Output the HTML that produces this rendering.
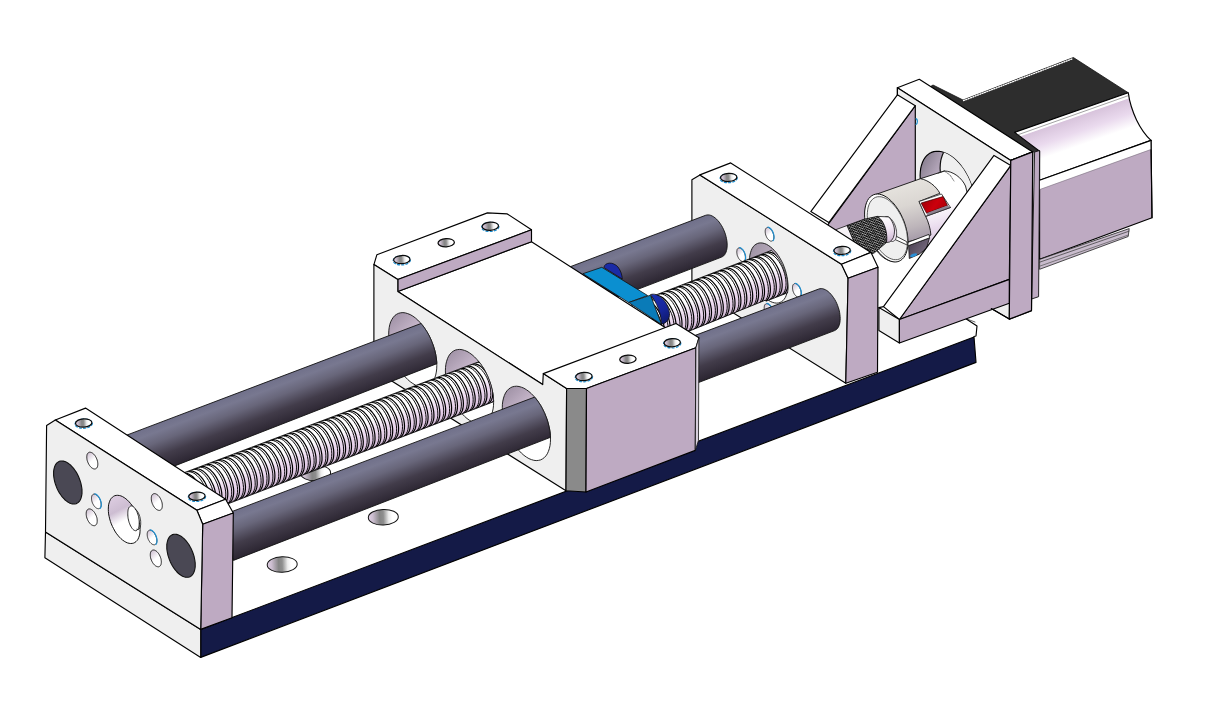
<!DOCTYPE html>
<html><head><meta charset="utf-8"><title>Linear stage</title>
<style>html,body{margin:0;padding:0;background:#fff;font-family:"Liberation Sans",sans-serif;}svg{display:block}</style>
</head><body>
<svg width="1206" height="705" viewBox="0 0 1206 705">
<defs>
<linearGradient id="hole" x1="0" y1="0" x2="1" y2="0"><stop offset="0" stop-color="#e0d0e4"/><stop offset="0.15" stop-color="#cbbdcf"/><stop offset="0.38" stop-color="#858585"/><stop offset="0.5" stop-color="#8e8e8e"/><stop offset="0.68" stop-color="#ececec"/><stop offset="0.8" stop-color="#ffffff"/><stop offset="1" stop-color="#ffffff"/></linearGradient>
<linearGradient id="holeV" x1="0" y1="0" x2="0.6" y2="1"><stop offset="0" stop-color="#c8b8cc"/><stop offset="0.6" stop-color="#ffffff"/><stop offset="1" stop-color="#ffffff"/></linearGradient>
<linearGradient id="mch" gradientUnits="userSpaceOnUse" x1="1080" y1="109.5" x2="1094.9" y2="152.1"><stop offset="0" stop-color="#ffffff"/><stop offset="0.115" stop-color="#ffffff"/><stop offset="0.135" stop-color="#d8c4dc"/><stop offset="0.45" stop-color="#eadaee"/><stop offset="0.75" stop-color="#ffffff"/><stop offset="1" stop-color="#ffffff"/></linearGradient>
<linearGradient id="bh" x1="0" y1="0.3" x2="1" y2="0.5"><stop offset="0" stop-color="#8e8494"/><stop offset="0.25" stop-color="#b9a9be"/><stop offset="0.4" stop-color="#e8e0ea"/><stop offset="0.42" stop-color="#ffffff"/><stop offset="1" stop-color="#f4f4f4"/></linearGradient>
<clipPath id="clipbh"><polygon points="974.9,204.4 974.7,208.1 974.3,211.6 973.5,214.8 972.5,217.8 971.2,220.5 969.6,222.8 967.8,224.8 965.8,226.4 963.6,227.6 961.2,228.4 958.6,228.7 956.0,228.7 953.2,228.2 950.4,227.3 947.5,226.0 944.6,224.3 941.8,222.2 939.0,219.8 936.4,217.0 933.8,214.0 931.4,210.7 929.2,207.1 927.2,203.4 925.4,199.5 923.8,195.5 922.5,191.5 921.5,187.4 920.7,183.4 920.3,179.4 920.1,175.6 920.3,171.9 920.7,168.4 921.5,165.2 922.5,162.2 923.8,159.5 925.4,157.2 927.2,155.2 929.2,153.6 931.4,152.4 933.8,151.6 936.4,151.3 939.0,151.3 941.8,151.8 944.6,152.7 947.5,154.0 950.4,155.7 953.2,157.8 956.0,160.2 958.6,163.0 961.2,166.0 963.6,169.3 965.8,172.9 967.8,176.6 969.6,180.5 971.2,184.5 972.5,188.5 973.5,192.6 974.3,196.6 974.7,200.6 974.9,204.4"/></clipPath>
<linearGradient id="bh2" gradientUnits="userSpaceOnUse" x1="920" y1="170" x2="975" y2="200"><stop offset="0" stop-color="#8f8596"/><stop offset="0.25" stop-color="#b4a6ba"/><stop offset="0.5" stop-color="#cdbfd2"/><stop offset="1" stop-color="#d8ccdc"/></linearGradient>
<linearGradient id="cpw" gradientUnits="userSpaceOnUse" x1="935" y1="172" x2="952" y2="236"><stop offset="0" stop-color="#ffffff"/><stop offset="0.5" stop-color="#ffffff"/><stop offset="0.8" stop-color="#eadcee"/><stop offset="1" stop-color="#dccce0"/></linearGradient>
<linearGradient id="cpb" gradientUnits="userSpaceOnUse" x1="893" y1="186" x2="912" y2="258"><stop offset="0" stop-color="#e6e3de"/><stop offset="0.3" stop-color="#dad6d2"/><stop offset="0.6" stop-color="#bdb5ba"/><stop offset="0.85" stop-color="#9c90a2"/><stop offset="1" stop-color="#8a7e90"/></linearGradient>
<linearGradient id="cpd" gradientUnits="userSpaceOnUse" x1="910" y1="244" x2="926" y2="256"><stop offset="0" stop-color="#4e4456"/><stop offset="1" stop-color="#7c7084"/></linearGradient>
<linearGradient id="red" gradientUnits="userSpaceOnUse" x1="925" y1="198" x2="945" y2="212"><stop offset="0" stop-color="#a40008"/><stop offset="0.5" stop-color="#cc000c"/><stop offset="1" stop-color="#aa0008"/></linearGradient>
<linearGradient id="cpf" gradientUnits="userSpaceOnUse" x1="866" y1="200" x2="905" y2="255"><stop offset="0" stop-color="#ffffff"/><stop offset="0.55" stop-color="#ffffff"/><stop offset="1" stop-color="#e6deea"/></linearGradient>
<linearGradient id="ssh" gradientUnits="userSpaceOnUse" x1="884" y1="216" x2="890" y2="244"><stop offset="0" stop-color="#ffffff"/><stop offset="0.45" stop-color="#f3e8f5"/><stop offset="0.8" stop-color="#d8c4dc"/><stop offset="1" stop-color="#b8a4bc"/></linearGradient>
<pattern id="knurl" width="2.4" height="2.4" patternUnits="userSpaceOnUse" patternTransform="rotate(18)"><rect width="2.4" height="2.4" fill="#ffffff"/><path d="M0,0 L2.4,2.4 M2.4,0 L0,2.4" stroke="#000" stroke-width="0.9"/></pattern>
<linearGradient id="rph" x1="0" y1="0" x2="1" y2="1"><stop offset="0" stop-color="#9a90a0"/><stop offset="0.4" stop-color="#b8aabc"/><stop offset="0.75" stop-color="#ffffff"/><stop offset="1" stop-color="#ffffff"/></linearGradient>
<linearGradient id="r2b" gradientUnits="userSpaceOnUse" x1="628.8" y1="244.5" x2="644.9" y2="286.9"><stop offset="0" stop-color="#70708a"/><stop offset="0.17" stop-color="#787890"/><stop offset="0.38" stop-color="#68667a"/><stop offset="0.68" stop-color="#423c4a"/><stop offset="1" stop-color="#2b2531"/></linearGradient>
<linearGradient id="s2" gradientUnits="userSpaceOnUse" x1="696.1" y1="279.4" x2="712.9" y2="322.8"><stop offset="0" stop-color="#ffffff"/><stop offset="0.38" stop-color="#ffffff"/><stop offset="0.6" stop-color="#eddbf0"/><stop offset="0.85" stop-color="#dfc7e3"/><stop offset="1" stop-color="#c4aec8"/></linearGradient>
<clipPath id="clip_s2"><polygon points="631.7,304.3 771.4,250.4 771.7,250.7 772.0,251.0 772.4,251.3 772.7,251.6 773.0,251.9 773.3,252.2 773.7,252.6 774.0,252.9 774.3,253.2 774.6,253.6 774.9,254.0 775.3,254.3 775.6,254.7 775.9,255.1 776.2,255.4 776.5,255.8 776.8,256.2 777.1,256.6 777.4,257.0 777.7,257.5 778.0,257.9 778.3,258.3 778.6,258.7 778.9,259.2 779.1,259.6 779.4,260.1 779.7,260.5 780.0,261.0 780.2,261.4 780.5,261.9 780.8,262.4 781.0,262.8 781.3,263.3 781.5,263.8 781.8,264.3 782.0,264.8 782.3,265.2 782.5,265.7 782.7,266.2 783.0,266.7 783.2,267.2 783.4,267.7 783.6,268.2 783.8,268.8 784.0,269.3 784.2,269.8 784.4,270.3 784.6,270.8 784.8,271.3 785.0,271.9 785.1,272.4 785.3,272.9 785.5,273.4 785.6,273.9 785.8,274.5 785.9,275.0 786.1,275.5 786.2,276.0 786.4,276.6 786.5,277.1 786.6,277.6 786.7,278.1 786.8,278.7 786.9,279.2 787.0,279.7 787.1,280.2 787.2,280.8 787.3,281.3 787.4,281.8 787.5,282.3 787.5,282.8 787.6,283.3 787.6,283.8 787.7,284.3 787.7,284.8 787.8,285.3 787.8,285.8 787.8,286.3 787.9,286.8 787.9,287.3 787.9,287.8 787.9,288.3 787.9,288.7 787.9,289.2 787.9,289.7 787.8,290.1 787.8,290.6 787.8,291.1 787.7,291.5 787.7,292.0 787.6,292.4 787.6,292.8 766.0,301.2 765.7,300.9 765.4,300.6 765.0,300.3 648.3,347.7"/></clipPath>
<linearGradient id="r2f" gradientUnits="userSpaceOnUse" x1="745.4" y1="316.5" x2="761.3" y2="359.1"><stop offset="0" stop-color="#70708a"/><stop offset="0.17" stop-color="#787890"/><stop offset="0.38" stop-color="#68667a"/><stop offset="0.68" stop-color="#423c4a"/><stop offset="1" stop-color="#2b2531"/></linearGradient>
<linearGradient id="nutd" gradientUnits="userSpaceOnUse" x1="652" y1="296" x2="668" y2="320"><stop offset="0" stop-color="#1a2fb0"/><stop offset="0.6" stop-color="#16259a"/><stop offset="1" stop-color="#101a70"/></linearGradient>
<linearGradient id="chh" x1="0.2" y1="0" x2="0.8" y2="1"><stop offset="0" stop-color="#a294a8"/><stop offset="0.3" stop-color="#c6b6ca"/><stop offset="0.55" stop-color="#ffffff"/><stop offset="1" stop-color="#ffffff"/></linearGradient>
<linearGradient id="r1b" gradientUnits="userSpaceOnUse" x1="258.1" y1="385.0" x2="274.5" y2="428.2"><stop offset="0" stop-color="#70708a"/><stop offset="0.17" stop-color="#787890"/><stop offset="0.38" stop-color="#68667a"/><stop offset="0.68" stop-color="#423c4a"/><stop offset="1" stop-color="#2b2531"/></linearGradient>
<clipPath id="clip_r1b"><polygon points="111.5,440.9 421.0,323.5 421.4,324.0 421.8,324.4 422.2,324.9 422.6,325.4 422.9,325.9 423.3,326.4 423.7,326.9 424.1,327.4 424.4,327.9 424.8,328.5 425.2,329.0 425.5,329.5 425.9,330.1 426.2,330.6 426.6,331.2 426.9,331.7 427.3,332.3 427.6,332.9 427.9,333.5 428.2,334.1 428.6,334.6 428.9,335.2 429.2,335.8 429.5,336.4 429.8,337.1 430.1,337.7 430.4,338.3 430.7,338.9 430.9,339.5 431.2,340.1 431.5,340.8 431.7,341.4 432.0,342.0 432.2,342.7 432.5,343.3 432.7,343.9 433.0,344.6 433.2,345.2 433.4,345.9 433.6,346.5 433.8,347.2 434.0,347.8 434.2,348.5 434.4,349.1 434.6,349.8 434.8,350.4 434.9,351.1 435.1,351.7 435.2,352.4 435.4,353.0 435.5,353.6 435.7,354.3 435.8,354.9 435.9,355.6 436.0,356.2 436.1,356.9 436.2,357.5 436.3,358.1 436.4,358.8 436.5,359.4 436.5,360.0 436.6,360.6 436.7,361.2 436.7,361.9 436.8,362.5 436.8,363.1 436.8,363.7 128.5,483.9"/></clipPath>
<linearGradient id="s1" gradientUnits="userSpaceOnUse" x1="316.7" y1="422.6" x2="332.5" y2="464.5"><stop offset="0" stop-color="#ffffff"/><stop offset="0.38" stop-color="#ffffff"/><stop offset="0.6" stop-color="#eddbf0"/><stop offset="0.85" stop-color="#dfc7e3"/><stop offset="1" stop-color="#c4aec8"/></linearGradient>
<clipPath id="clip_s1"><polygon points="171.8,477.3 478.9,361.7 479.3,362.2 479.7,362.7 480.1,363.2 480.4,363.7 480.8,364.2 481.2,364.7 481.5,365.3 481.9,365.8 482.3,366.3 482.6,366.9 483.0,367.4 483.3,368.0 483.7,368.5 484.0,369.1 484.3,369.7 484.7,370.3 485.0,370.9 485.3,371.4 485.6,372.0 485.9,372.6 486.2,373.2 486.5,373.9 486.8,374.5 487.1,375.1 487.4,375.7 487.7,376.3 488.0,376.9 488.2,377.6 488.5,378.2 488.7,378.8 489.0,379.5 489.2,380.1 489.5,380.7 489.7,381.4 489.9,382.0 490.2,382.7 490.4,383.3 490.6,384.0 490.8,384.6 491.0,385.3 491.2,385.9 491.3,386.6 491.5,387.2 491.7,387.9 491.8,388.5 492.0,389.2 492.1,389.8 492.3,390.4 492.4,391.1 492.5,391.7 492.7,392.4 492.8,393.0 492.9,393.7 493.0,394.3 493.1,394.9 493.2,395.6 493.2,396.2 493.3,396.8 493.4,397.4 493.4,398.0 493.5,398.7 493.5,399.3 493.5,399.9 493.6,400.5 493.6,401.1 493.6,401.7 188.2,519.1"/></clipPath>
<linearGradient id="r1f" gradientUnits="userSpaceOnUse" x1="367.4" y1="460.1" x2="383.8" y2="503.3"><stop offset="0" stop-color="#70708a"/><stop offset="0.17" stop-color="#787890"/><stop offset="0.38" stop-color="#68667a"/><stop offset="0.68" stop-color="#423c4a"/><stop offset="1" stop-color="#2b2531"/></linearGradient>
<clipPath id="clip_r1f"><polygon points="216.5,517.4 534.6,397.1 535.0,397.6 535.4,398.0 535.8,398.5 536.2,399.0 536.6,399.5 537.0,400.0 537.3,400.5 537.7,401.0 538.1,401.5 538.4,402.1 538.8,402.6 539.2,403.1 539.5,403.7 539.9,404.2 540.2,404.8 540.6,405.3 540.9,405.9 541.2,406.5 541.6,407.1 541.9,407.7 542.2,408.2 542.5,408.8 542.8,409.4 543.1,410.0 543.4,410.7 543.7,411.3 544.0,411.9 544.3,412.5 544.6,413.1 544.9,413.7 545.1,414.4 545.4,415.0 545.6,415.6 545.9,416.3 546.1,416.9 546.4,417.5 546.6,418.2 546.8,418.8 547.1,419.5 547.3,420.1 547.5,420.8 547.7,421.4 547.9,422.1 548.1,422.7 548.2,423.4 548.4,424.0 548.6,424.7 548.7,425.3 548.9,426.0 549.0,426.6 549.2,427.2 549.3,427.9 549.4,428.5 549.6,429.2 549.7,429.8 549.8,430.5 549.9,431.1 550.0,431.7 550.1,432.4 550.1,433.0 550.2,433.6 550.3,434.2 550.3,434.8 550.4,435.5 550.4,436.1 550.4,436.7 550.5,437.3 233.5,560.4"/></clipPath>
<linearGradient id="lch" x1="0.25" y1="0" x2="0.6" y2="1"><stop offset="0" stop-color="#dccce0"/><stop offset="0.3" stop-color="#cdbdd2"/><stop offset="0.55" stop-color="#ffffff"/><stop offset="1" stop-color="#ffffff"/></linearGradient>
</defs>
<rect width="1206" height="705" fill="#fff"/>
<polygon points="45.5,531.9 200.7,628.9 974.0,336.5 977.0,326.0 930.0,296.0 819.0,240.0 420.0,300.0 85.0,420.0" fill="#ffffff" stroke="none" stroke-width="1.15" stroke-linejoin="round" />
<polyline points="930.0,296.0 965.5,318.5 977.0,326.0 976.0,336.0 974.0,336.5" fill="none" stroke="#000" stroke-width="1.15" stroke-linejoin="round" stroke-linecap="round" />
<polyline points="965.5,318.5 975.0,322.0" fill="none" stroke="#000" stroke-width="0.6" stroke-linejoin="round" stroke-linecap="round" />
<polygon points="200.7,629.4 974.0,337.0 976.0,362.4 200.7,657.4" fill="#141a47" stroke="#000" stroke-width="1.15" stroke-linejoin="round" />
<polygon points="45.5,531.9 200.7,629.4 200.7,657.4 44.9,557.8" fill="#efefef" stroke="#000" stroke-width="1.15" stroke-linejoin="round" />
<ellipse cx="282.2" cy="564.5" rx="15.0" ry="7.8" fill="url(#hole)" stroke="#111" stroke-width="1.0" transform="rotate(-2 282.2 564.5)" />
<ellipse cx="383.3" cy="517.2" rx="15.0" ry="7.8" fill="url(#hole)" stroke="#111" stroke-width="1.0" transform="rotate(-2 383.3 517.2)" />
<ellipse cx="315.6" cy="473.0" rx="15.0" ry="7.8" fill="url(#hole)" stroke="#111" stroke-width="1.0" transform="rotate(-2 315.6 473.0)" />
<polygon points="933.0,85.0 963.0,100.0 1073.4,57.5 1128.2,92.7 1014.7,132.4 1038.6,151.3 1020.0,153.0 925.0,90.0" fill="#2d2d2d" stroke="#111" stroke-width="0.8" stroke-linejoin="round" />
<polyline points="963.5,100.6 1073.0,58.6" fill="none" stroke="#ffffff" stroke-width="1.3" stroke-linejoin="round" stroke-linecap="round" stroke-dasharray="1.1 1.4" stroke-linecap="butt"/>
<polygon points="1039.6,180.0 1151.0,140.4 1152.0,217.7 1039.6,259.4" fill="#beaac2" stroke="#000" stroke-width="1.15" stroke-linejoin="round" />
<path d="M1014.7,132.4 L1128.2,92.7 C1131,112 1140,130 1151,140.4 L1039.6,180.2 L1039.6,151.3 Z" fill="url(#mch)" stroke="#000" stroke-width="1.15" stroke-linejoin="round" />
<polygon points="1039.6,180.2 1151.0,140.4 1151.2,149.2 1039.6,189.4" fill="#ffffff" stroke="none" stroke-width="1.15" stroke-linejoin="round" />
<polyline points="1039.6,189.6 1151.2,149.4" fill="none" stroke="#7a6f7e" stroke-width="0.6" stroke-linejoin="round" stroke-linecap="round" />
<polyline points="1039.6,180.2 1151.0,140.4" fill="none" stroke="#000" stroke-width="1.15" stroke-linejoin="round" stroke-linecap="round" />
<polyline points="1151.0,140.4 1152.0,217.7" fill="none" stroke="#000" stroke-width="1.15" stroke-linejoin="round" stroke-linecap="round" />
<polyline points="1017.6,134.9 1129.0,95.4" fill="none" stroke="#444" stroke-width="0.5" stroke-linejoin="round" stroke-linecap="round" />
<polygon points="1039.6,259.4 1129.2,228.6 1128.2,236.5 1039.6,269.3" fill="#c9bccd" stroke="#222" stroke-width="0.8" stroke-linejoin="round" />
<polyline points="1039.6,262.2 1129.0,231.2" fill="none" stroke="#333" stroke-width="0.7" stroke-linejoin="round" stroke-linecap="round" />
<polyline points="1039.6,266.2 1128.4,235.0" fill="none" stroke="#555" stroke-width="0.7" stroke-linejoin="round" stroke-linecap="round" />
<polygon points="1034.6,152.0 1039.6,150.5 1038.6,296.7 1031.6,299.0" fill="#beaac2" stroke="#111" stroke-width="0.9" stroke-linejoin="round" />
<polygon points="897.4,87.8 919.3,79.3 1032.7,151.9 1010.8,160.4" fill="#ffffff" stroke="#000" stroke-width="1.15" stroke-linejoin="round" />
<polygon points="1010.8,160.4 1032.7,151.9 1031.5,310.6 1009.3,319.1" fill="#beaac2" stroke="#000" stroke-width="1.15" stroke-linejoin="round" />
<polygon points="897.4,87.8 1010.8,160.4 1009.3,319.1 991.3,308.6 897.4,250.0" fill="#efefef" stroke="#000" stroke-width="1.15" stroke-linejoin="round" />
<polygon points="974.9,204.4 974.7,208.1 974.3,211.6 973.5,214.8 972.5,217.8 971.2,220.5 969.6,222.8 967.8,224.8 965.8,226.4 963.6,227.6 961.2,228.4 958.6,228.7 956.0,228.7 953.2,228.2 950.4,227.3 947.5,226.0 944.6,224.3 941.8,222.2 939.0,219.8 936.4,217.0 933.8,214.0 931.4,210.7 929.2,207.1 927.2,203.4 925.4,199.5 923.8,195.5 922.5,191.5 921.5,187.4 920.7,183.4 920.3,179.4 920.1,175.6 920.3,171.9 920.7,168.4 921.5,165.2 922.5,162.2 923.8,159.5 925.4,157.2 927.2,155.2 929.2,153.6 931.4,152.4 933.8,151.6 936.4,151.3 939.0,151.3 941.8,151.8 944.6,152.7 947.5,154.0 950.4,155.7 953.2,157.8 956.0,160.2 958.6,163.0 961.2,166.0 963.6,169.3 965.8,172.9 967.8,176.6 969.6,180.5 971.2,184.5 972.5,188.5 973.5,192.6 974.3,196.6 974.7,200.6" fill="url(#bh2)" stroke="#000" stroke-width="1.15" stroke-linejoin="round" />
<g clip-path="url(#clipbh)">
<polygon points="994.9,196.9 994.7,200.6 994.3,204.1 993.5,207.3 992.5,210.3 991.2,213.0 989.6,215.3 987.8,217.3 985.8,218.9 983.6,220.1 981.2,220.9 978.6,221.2 976.0,221.2 973.2,220.7 970.4,219.8 967.5,218.5 964.6,216.8 961.8,214.7 959.0,212.3 956.4,209.5 953.8,206.5 951.4,203.2 949.2,199.6 947.2,195.9 945.4,192.0 943.8,188.0 942.5,184.0 941.5,179.9 940.7,175.9 940.3,171.9 940.1,168.1 940.3,164.4 940.7,160.9 941.5,157.7 942.5,154.7 943.8,152.0 945.4,149.7 947.2,147.7 949.2,146.1 951.4,144.9 953.8,144.1 956.4,143.8 959.0,143.8 961.8,144.3 964.6,145.2 967.5,146.5 970.4,148.2 973.2,150.3 976.0,152.7 978.6,155.5 981.2,158.5 983.6,161.8 985.8,165.4 987.8,169.1 989.6,173.0 991.2,177.0 992.5,181.0 993.5,185.1 994.3,189.1 994.7,193.1" fill="#efefef" stroke="#111" stroke-width="1.2" stroke-linejoin="round" />
</g>
<polygon points="803.5,258.0 913.8,217.7 992.5,269.4 882.6,309.5" fill="#ffffff" stroke="none" stroke-width="1.15" stroke-linejoin="round" />
<polygon points="915.3,105.7 915.3,217.7 803.5,258.0" fill="#beaac2" stroke="#000" stroke-width="1.15" stroke-linejoin="round" />
<polygon points="897.4,94.8 915.3,105.7 828.8,222.5 810.8,211.6" fill="#ffffff" stroke="#000" stroke-width="1.15" stroke-linejoin="round" />
<polyline points="897.4,87.8 897.4,94.8" fill="none" stroke="#000" stroke-width="1.15" stroke-linejoin="round" stroke-linecap="round" />
<path d="M915.6,118.6 C918,119 918,124 915.6,124.6" fill="none" stroke="#1f8fd0" stroke-width="1.2" stroke-linejoin="round" />
<path d="M920.5,178.7 L944.3,171 C953,171 962,178 965.5,186 L968,196 L940,242 L925,249 Z" fill="url(#cpw)" stroke="#111" stroke-width="0.9" stroke-linejoin="round" />
<polyline points="944.3,171.0 950.0,175.0 954.0,181.0" fill="none" stroke="#444" stroke-width="0.7" stroke-linejoin="round" stroke-linecap="round" stroke-dasharray="2.2 1.2"/>
<polyline points="938.0,173.2 944.3,171.0" fill="none" stroke="#222" stroke-width="0.8" stroke-linejoin="round" stroke-linecap="round" />
<path d="M872.9,195.5 L920.5,178.7 C928,180 936,186 939.9,193.3 L919,201.5 L925.7,216.4 C928.5,222 930.5,229 930.9,235 L928.7,236.5 L903,243 L905,247 C902,256 898,261 894.7,261.5 C880,262 866,240 865,215 C865,206 868,199 872.9,195.5 Z" fill="url(#cpb)" stroke="#111" stroke-width="0.9" stroke-linejoin="round" />
<polygon points="908.6,245.4 929.4,238.0 926.5,248.4 919.0,254.3 909.3,258.5" fill="url(#cpd)" stroke="#111" stroke-width="0.8" stroke-linejoin="round" />
<polygon points="895.9,238.0 907.9,242.4 928.9,234.4 929.6,237.8 908.6,245.6 895.0,240.5" fill="#ffffff" stroke="#111" stroke-width="0.8" stroke-linejoin="round" />
<ellipse cx="913.6" cy="255.2" rx="3.6" ry="1.5" fill="#2a90d8" stroke="none" stroke-width="0" transform="rotate(-22 913.6 255.2)" />
<polygon points="919.0,201.5 941.5,194.0 950.5,207.5 925.7,216.4" fill="#ffffff" stroke="#222" stroke-width="0.8" stroke-linejoin="round" />
<polygon points="921.1,203.0 943.0,196.6 947.6,205.5 926.6,213.2" fill="url(#red)" stroke="#300" stroke-width="0.7" stroke-linejoin="round" />
<polygon points="926.6,213.2 947.6,205.5 950.5,207.5 927.5,216.0" fill="#8c8290" stroke="none" stroke-width="1.15" stroke-linejoin="round" />
<polyline points="925.7,216.4 950.5,207.5" fill="none" stroke="#222" stroke-width="0.8" stroke-linejoin="round" stroke-linecap="round" />
<polygon points="908.0,241.9 907.9,245.0 907.5,248.0 906.9,250.8 906.1,253.3 905.1,255.5 903.9,257.4 902.4,259.0 900.8,260.3 899.1,261.2 897.1,261.8 895.1,262.0 893.0,261.8 890.8,261.2 888.6,260.3 886.3,259.0 884.0,257.4 881.8,255.4 879.6,253.2 877.5,250.7 875.4,247.9 873.5,244.9 871.8,241.8 870.2,238.4 868.7,235.0 867.5,231.5 866.5,227.9 865.7,224.4 865.1,220.9 864.7,217.5 864.6,214.1 864.7,211.0 865.1,208.0 865.7,205.2 866.5,202.7 867.5,200.5 868.7,198.6 870.2,197.0 871.8,195.7 873.5,194.8 875.4,194.2 877.5,194.0 879.6,194.2 881.8,194.8 884.0,195.7 886.3,197.0 888.6,198.6 890.8,200.6 893.0,202.8 895.1,205.3 897.1,208.1 899.1,211.1 900.8,214.2 902.4,217.6 903.9,221.0 905.1,224.5 906.1,228.1 906.9,231.6 907.5,235.1 907.9,238.5" fill="#ffffff" stroke="#111" stroke-width="1.0" stroke-linejoin="round" />
<polygon points="907.6,241.1 907.4,244.0 907.1,246.8 906.6,249.3 905.8,251.7 904.9,253.7 903.7,255.5 902.4,257.0 900.9,258.2 899.2,259.1 897.5,259.6 895.6,259.7 893.6,259.6 891.6,259.0 889.5,258.2 887.4,257.0 885.3,255.5 883.2,253.7 881.2,251.6 879.2,249.3 877.3,246.7 875.6,243.9 873.9,241.0 872.4,237.9 871.1,234.7 869.9,231.5 869.0,228.2 868.2,224.9 867.7,221.6 867.4,218.4 867.2,215.3 867.4,212.4 867.7,209.6 868.2,207.1 869.0,204.7 869.9,202.7 871.1,200.9 872.4,199.4 873.9,198.2 875.6,197.3 877.3,196.8 879.2,196.7 881.2,196.8 883.2,197.4 885.3,198.2 887.4,199.4 889.5,200.9 891.6,202.7 893.6,204.8 895.6,207.1 897.5,209.7 899.2,212.5 900.9,215.4 902.4,218.5 903.7,221.7 904.9,224.9 905.8,228.2 906.6,231.5 907.1,234.8 907.4,238.0" fill="#efefef" stroke="#333" stroke-width="0.8" stroke-linejoin="round" />
<polygon points="893.5,234.8 906.6,241.6 907.6,245.2 893.0,238.6" fill="#ffffff" stroke="#111" stroke-width="0.8" stroke-linejoin="round" />
<polygon points="896.6,233.8 896.6,235.0 896.5,236.1 896.3,237.1 896.0,238.1 895.7,238.9 895.3,239.7 894.8,240.3 894.3,240.8 893.7,241.1 893.1,241.4 892.4,241.5 891.7,241.4 891.0,241.3 890.2,240.9 889.5,240.5 888.8,239.9 888.0,239.2 887.3,238.4 886.6,237.5 885.9,236.5 885.3,235.5 884.7,234.3 884.2,233.1 883.7,231.9 883.3,230.6 883.0,229.3 882.7,228.0 882.5,226.7 882.4,225.4 882.4,224.2 882.4,223.0 882.5,221.9 882.7,220.9 883.0,219.9 883.3,219.1 883.7,218.3 884.2,217.7 884.7,217.2 885.3,216.9 885.9,216.6 886.6,216.5 887.3,216.6 888.0,216.7 888.8,217.1 889.5,217.5 890.2,218.1 891.0,218.8 891.7,219.6 892.4,220.5 893.1,221.5 893.7,222.5 894.3,223.7 894.8,224.9 895.3,226.1 895.7,227.4 896.0,228.7 896.3,230.0 896.5,231.3 896.6,232.6" fill="#efe6f1" stroke="#222" stroke-width="0.8" stroke-linejoin="round" />
<path d="M877.3,216.4 L888.5,216.9 C892,220 894.5,226 894.5,231 C894.5,236 893,240 889.5,242 L886.3,242.6 Z" fill="url(#ssh)" stroke="#111" stroke-width="0.8" stroke-linejoin="round" />
<polygon points="820.0,235.5 848.0,225.2 862.0,256.5 850.0,262.0" fill="#f6f2f6" stroke="#111" stroke-width="0.8" stroke-linejoin="round" />
<path d="M847,225.5 L863.9,219.3 L877.3,216.4 C882,219 885.5,226 886.5,234 C887,238 886.8,241 886.3,242.6 L874.4,252.8 L861,258 Z" fill="url(#knurl)" stroke="#111" stroke-width="0.9" stroke-linejoin="round" />
<polygon points="1010.8,165.4 1009.3,279.4 899.4,319.5" fill="#beaac2" stroke="#000" stroke-width="1.15" stroke-linejoin="round" />
<polygon points="994.0,155.4 1010.8,165.4 899.4,319.5 883.5,306.6" fill="#ffffff" stroke="#000" stroke-width="1.15" stroke-linejoin="round" />
<polygon points="878.9,307.6 899.4,319.5 899.4,343.0 878.9,330.5" fill="#efefef" stroke="#000" stroke-width="1.15" stroke-linejoin="round" />
<polygon points="899.4,319.5 1009.3,279.4 1009.3,303.2 899.4,343.0" fill="#beaac2" stroke="#000" stroke-width="1.15" stroke-linejoin="round" />
<polyline points="878.9,307.6 883.5,306.6" fill="none" stroke="#000" stroke-width="1.15" stroke-linejoin="round" stroke-linecap="round" />
<polygon points="1010.8,160.4 1032.7,151.9 1031.5,310.6 1009.3,319.1" fill="#beaac2" stroke="#000" stroke-width="1.15" stroke-linejoin="round" />
<polyline points="991.3,308.6 1009.3,319.1" fill="none" stroke="#000" stroke-width="1.15" stroke-linejoin="round" stroke-linecap="round" />
<polygon points="691.9,179.8 699.9,174.9 841.5,264.3 848.1,278.2 845.8,383.3 691.9,287.0" fill="#efefef" stroke="#000" stroke-width="1.15" stroke-linejoin="round" />
<polygon points="699.9,174.9 730.7,162.9 871.0,252.4 841.5,264.3" fill="#ffffff" stroke="#000" stroke-width="1.15" stroke-linejoin="round" />
<polygon points="841.5,264.3 871.0,252.4 878.0,267.3 848.1,278.2" fill="#ffffff" stroke="#000" stroke-width="1.15" stroke-linejoin="round" />
<polygon points="848.1,278.2 878.0,267.3 877.5,372.3 845.8,383.3" fill="#beaac2" stroke="#000" stroke-width="1.15" stroke-linejoin="round" />
<ellipse cx="728.7" cy="178.1" rx="8.7" ry="4.6" fill="none" stroke="#1f8fd0" stroke-width="1.2" transform="rotate(-3 728.7 178.1)" stroke-dasharray="3 1.2"/>
<ellipse cx="728.7" cy="177.4" rx="8.2" ry="4.1" fill="url(#hole)" stroke="#0a0a0a" stroke-width="1.25" transform="rotate(-3 728.7 177.4)" />
<ellipse cx="842.1" cy="251.1" rx="8.7" ry="4.6" fill="none" stroke="#1f8fd0" stroke-width="1.2" transform="rotate(-3 842.1 251.1)" stroke-dasharray="3 1.2"/>
<ellipse cx="842.1" cy="250.4" rx="8.2" ry="4.1" fill="url(#hole)" stroke="#0a0a0a" stroke-width="1.25" transform="rotate(-3 842.1 250.4)" />
<polygon points="787.9,285.5 787.8,288.3 787.5,290.9 786.9,293.3 786.2,295.5 785.3,297.5 784.2,299.2 783.0,300.6 781.5,301.7 780.0,302.5 778.3,303.0 776.5,303.1 774.6,302.9 772.7,302.4 770.7,301.6 768.7,300.4 766.7,298.9 764.7,297.2 762.8,295.2 760.9,293.0 759.1,290.5 757.4,287.8 755.9,285.0 754.4,282.1 753.2,279.0 752.1,275.9 751.2,272.8 750.5,269.6 749.9,266.5 749.6,263.5 749.5,260.5 749.6,257.7 749.9,255.1 750.5,252.7 751.2,250.5 752.1,248.5 753.2,246.8 754.4,245.4 755.9,244.3 757.4,243.5 759.1,243.0 760.9,242.9 762.8,243.1 764.7,243.6 766.7,244.4 768.7,245.6 770.7,247.1 772.7,248.8 774.6,250.8 776.5,253.0 778.3,255.5 780.0,258.2 781.5,261.0 783.0,263.9 784.2,267.0 785.3,270.1 786.2,273.2 786.9,276.4 787.5,279.5 787.8,282.5" fill="url(#rph)" stroke="#111" stroke-width="0.9" stroke-linejoin="round" />
<polygon points="773.8,237.1 773.8,237.8 773.7,238.3 773.6,238.9 773.5,239.4 773.3,239.8 773.0,240.2 772.7,240.5 772.4,240.8 772.1,241.0 771.7,241.1 771.3,241.1 770.8,241.1 770.4,241.0 770.0,240.8 769.5,240.5 769.0,240.2 768.6,239.8 768.2,239.3 767.7,238.8 767.3,238.3 766.9,237.7 766.6,237.0 766.3,236.4 766.0,235.7 765.7,235.0 765.5,234.2 765.4,233.5 765.3,232.8 765.2,232.1 765.2,231.5 765.2,230.8 765.3,230.3 765.4,229.7 765.5,229.2 765.7,228.8 766.0,228.4 766.3,228.1 766.6,227.8 766.9,227.6 767.3,227.5 767.7,227.5 768.2,227.5 768.6,227.6 769.0,227.8 769.5,228.1 770.0,228.4 770.4,228.8 770.8,229.3 771.3,229.8 771.7,230.3 772.1,230.9 772.4,231.6 772.7,232.2 773.0,232.9 773.3,233.6 773.5,234.4 773.6,235.1 773.7,235.8 773.8,236.5" fill="url(#holeV)" stroke="#111" stroke-width="0.8" stroke-linejoin="round" />
<polyline points="767.9,227.2 768.7,227.4 769.4,227.7 770.1,228.3 770.9,229.0 771.6,229.8 772.2,230.8 772.8,231.9 773.2,233.0 773.6,234.2 773.9,235.3 774.0,236.5 774.0,237.5 774.0,238.5 773.7,239.4 773.4,240.2 773.0,240.7" fill="none" stroke="#1f8fd0" stroke-width="1.2" stroke-linejoin="round" stroke-linecap="round" />
<polygon points="745.4,257.5 745.4,258.2 745.3,258.7 745.2,259.3 745.1,259.8 744.9,260.2 744.6,260.6 744.3,260.9 744.0,261.2 743.7,261.4 743.3,261.5 742.9,261.5 742.4,261.5 742.0,261.4 741.6,261.2 741.1,260.9 740.6,260.6 740.2,260.2 739.8,259.7 739.3,259.2 738.9,258.7 738.5,258.1 738.2,257.4 737.9,256.8 737.6,256.1 737.3,255.4 737.1,254.6 737.0,253.9 736.9,253.2 736.8,252.5 736.8,251.9 736.8,251.2 736.9,250.7 737.0,250.1 737.1,249.6 737.3,249.2 737.6,248.8 737.9,248.5 738.2,248.2 738.5,248.0 738.9,247.9 739.3,247.9 739.8,247.9 740.2,248.0 740.6,248.2 741.1,248.5 741.6,248.8 742.0,249.2 742.4,249.7 742.9,250.2 743.3,250.7 743.7,251.3 744.0,252.0 744.3,252.6 744.6,253.3 744.9,254.0 745.1,254.8 745.2,255.5 745.3,256.2 745.4,256.9" fill="url(#holeV)" stroke="#111" stroke-width="0.8" stroke-linejoin="round" />
<polyline points="739.5,247.6 740.3,247.8 741.0,248.1 741.7,248.7 742.5,249.4 743.2,250.2 743.8,251.2 744.4,252.3 744.8,253.4 745.2,254.6 745.5,255.7 745.6,256.9 745.6,257.9 745.6,258.9 745.3,259.8 745.0,260.6 744.6,261.1" fill="none" stroke="#1f8fd0" stroke-width="1.2" stroke-linejoin="round" stroke-linecap="round" />
<polygon points="801.1,293.2 801.1,293.9 801.0,294.4 800.9,295.0 800.8,295.5 800.6,295.9 800.3,296.3 800.0,296.6 799.7,296.9 799.4,297.1 799.0,297.2 798.6,297.2 798.1,297.2 797.7,297.1 797.3,296.9 796.8,296.6 796.3,296.3 795.9,295.9 795.5,295.4 795.0,294.9 794.6,294.4 794.2,293.8 793.9,293.1 793.6,292.5 793.3,291.8 793.0,291.1 792.8,290.3 792.7,289.6 792.6,288.9 792.5,288.2 792.5,287.6 792.5,286.9 792.6,286.4 792.7,285.8 792.8,285.3 793.0,284.9 793.3,284.5 793.6,284.2 793.9,283.9 794.2,283.7 794.6,283.6 795.0,283.6 795.5,283.6 795.9,283.7 796.3,283.9 796.8,284.2 797.3,284.5 797.7,284.9 798.1,285.4 798.6,285.9 799.0,286.4 799.4,287.0 799.7,287.7 800.0,288.3 800.3,289.0 800.6,289.7 800.8,290.5 800.9,291.2 801.0,291.9 801.1,292.6" fill="url(#holeV)" stroke="#111" stroke-width="0.8" stroke-linejoin="round" />
<polyline points="795.2,283.3 796.0,283.5 796.7,283.8 797.4,284.4 798.2,285.1 798.9,285.9 799.5,286.9 800.1,288.0 800.5,289.1 800.9,290.3 801.2,291.4 801.3,292.6 801.3,293.6 801.3,294.6 801.0,295.5 800.7,296.3 800.3,296.8" fill="none" stroke="#1f8fd0" stroke-width="1.2" stroke-linejoin="round" stroke-linecap="round" />
<polygon points="772.8,313.3 772.8,314.0 772.7,314.5 772.6,315.1 772.5,315.6 772.3,316.0 772.0,316.4 771.7,316.7 771.4,317.0 771.1,317.2 770.7,317.3 770.3,317.3 769.8,317.3 769.4,317.2 769.0,317.0 768.5,316.7 768.0,316.4 767.6,316.0 767.2,315.5 766.7,315.0 766.3,314.5 765.9,313.9 765.6,313.2 765.3,312.6 765.0,311.9 764.7,311.2 764.5,310.4 764.4,309.7 764.3,309.0 764.2,308.3 764.2,307.7 764.2,307.0 764.3,306.5 764.4,305.9 764.5,305.4 764.7,305.0 765.0,304.6 765.3,304.3 765.6,304.0 765.9,303.8 766.3,303.7 766.7,303.7 767.2,303.7 767.6,303.8 768.0,304.0 768.5,304.3 769.0,304.6 769.4,305.0 769.8,305.5 770.3,306.0 770.7,306.5 771.1,307.1 771.4,307.8 771.7,308.4 772.0,309.1 772.3,309.8 772.5,310.6 772.6,311.3 772.7,312.0 772.8,312.7" fill="url(#holeV)" stroke="#111" stroke-width="0.8" stroke-linejoin="round" />
<polyline points="766.9,303.4 767.7,303.6 768.4,303.9 769.1,304.5 769.9,305.2 770.6,306.0 771.2,307.0 771.8,308.1 772.2,309.2 772.6,310.4 772.9,311.5 773.0,312.7 773.0,313.7 773.0,314.7 772.7,315.6 772.4,316.4 772.0,316.9" fill="none" stroke="#1f8fd0" stroke-width="1.2" stroke-linejoin="round" stroke-linecap="round" />
<polygon points="551.9,273.7 705.6,215.3 706.8,215.0 708.1,214.9 709.4,215.0 710.8,215.4 712.2,216.0 713.6,216.8 715.1,217.9 716.5,219.1 717.8,220.5 719.2,222.1 720.4,223.9 721.6,225.7 722.7,227.7 723.7,229.8 724.6,232.0 725.4,234.2 726.0,236.4 726.5,238.7 726.9,240.9 727.1,243.0 727.2,245.1 727.1,247.1 726.9,248.9 726.5,250.6 726.0,252.2 725.3,253.6 724.6,254.8 723.7,255.8 722.7,256.5 721.6,257.1 568.1,316.1" fill="url(#r2b)" stroke="#111" stroke-width="0.9" stroke-linejoin="round" />
<polygon points="631.7,304.3 771.4,250.4 771.7,250.7 772.0,251.0 772.4,251.3 772.7,251.6 773.0,251.9 773.3,252.2 773.7,252.6 774.0,252.9 774.3,253.2 774.6,253.6 774.9,254.0 775.3,254.3 775.6,254.7 775.9,255.1 776.2,255.4 776.5,255.8 776.8,256.2 777.1,256.6 777.4,257.0 777.7,257.5 778.0,257.9 778.3,258.3 778.6,258.7 778.9,259.2 779.1,259.6 779.4,260.1 779.7,260.5 780.0,261.0 780.2,261.4 780.5,261.9 780.8,262.4 781.0,262.8 781.3,263.3 781.5,263.8 781.8,264.3 782.0,264.8 782.3,265.2 782.5,265.7 782.7,266.2 783.0,266.7 783.2,267.2 783.4,267.7 783.6,268.2 783.8,268.8 784.0,269.3 784.2,269.8 784.4,270.3 784.6,270.8 784.8,271.3 785.0,271.9 785.1,272.4 785.3,272.9 785.5,273.4 785.6,273.9 785.8,274.5 785.9,275.0 786.1,275.5 786.2,276.0 786.4,276.6 786.5,277.1 786.6,277.6 786.7,278.1 786.8,278.7 786.9,279.2 787.0,279.7 787.1,280.2 787.2,280.8 787.3,281.3 787.4,281.8 787.5,282.3 787.5,282.8 787.6,283.3 787.6,283.8 787.7,284.3 787.7,284.8 787.8,285.3 787.8,285.8 787.8,286.3 787.9,286.8 787.9,287.3 787.9,287.8 787.9,288.3 787.9,288.7 787.9,289.2 787.9,289.7 787.8,290.1 787.8,290.6 787.8,291.1 787.7,291.5 787.7,292.0 787.6,292.4 787.6,292.8 766.0,301.2 765.7,300.9 765.4,300.6 765.0,300.3 648.3,347.7" fill="url(#s2)" stroke="#111" stroke-width="0.9" stroke-linejoin="round" />
<g clip-path="url(#clip_s2)">
<polyline points="784.7,245.4 786.5,245.2 788.5,245.5 790.5,246.2 792.6,247.5 794.6,249.1 796.6,251.2 798.5,253.6 800.2,256.3 801.8,259.3 803.1,262.4 804.2,265.6 805.0,268.8 805.5,272.0 805.7,275.0 805.6,277.9 805.2,280.5 804.5,282.9 803.5,284.8 802.3,286.3 800.8,287.4" fill="none" stroke="#000" stroke-width="1.2" stroke-linejoin="round" stroke-linecap="round" />
<polyline points="782.7,246.1 784.5,245.9 786.5,246.2 788.5,247.0 790.6,248.3 792.6,249.9 794.6,252.0 796.5,254.4 798.2,257.1 799.8,260.0 801.1,263.2 802.2,266.4 803.0,269.6 803.5,272.8 803.7,275.8 803.6,278.7 803.2,281.3 802.5,283.6 801.5,285.6 800.3,287.1 798.8,288.2" fill="none" stroke="#000" stroke-width="0.95" stroke-linejoin="round" stroke-linecap="round" />
<polyline points="778.8,247.6 780.6,247.5 782.6,247.8 784.6,248.5 786.7,249.8 788.7,251.4 790.7,253.5 792.6,255.9 794.3,258.6 795.9,261.6 797.2,264.7 798.3,267.9 799.1,271.1 799.6,274.3 799.8,277.4 799.7,280.2 799.3,282.9 798.6,285.2 797.7,287.1 796.4,288.7 794.9,289.8" fill="none" stroke="#000" stroke-width="1.2" stroke-linejoin="round" stroke-linecap="round" />
<polyline points="776.8,248.4 778.6,248.2 780.6,248.5 782.6,249.3 784.7,250.5 786.7,252.2 788.7,254.3 790.6,256.7 792.3,259.4 793.9,262.3 795.2,265.4 796.3,268.7 797.1,271.9 797.6,275.1 797.8,278.1 797.7,281.0 797.3,283.6 796.6,286.0 795.7,287.9 794.4,289.4 792.9,290.5" fill="none" stroke="#000" stroke-width="0.95" stroke-linejoin="round" stroke-linecap="round" />
<polyline points="772.9,249.9 774.7,249.7 776.7,250.0 778.7,250.8 780.8,252.1 782.8,253.7 784.8,255.8 786.7,258.2 788.4,260.9 790.0,263.9 791.3,267.0 792.4,270.2 793.2,273.4 793.7,276.6 793.9,279.7 793.8,282.5 793.4,285.2 792.7,287.5 791.8,289.4 790.5,291.0 789.0,292.1" fill="none" stroke="#000" stroke-width="1.2" stroke-linejoin="round" stroke-linecap="round" />
<polyline points="770.9,250.7 772.7,250.5 774.7,250.8 776.7,251.6 778.8,252.8 780.8,254.5 782.8,256.6 784.7,259.0 786.4,261.7 788.0,264.6 789.3,267.7 790.4,271.0 791.2,274.2 791.7,277.4 791.9,280.4 791.8,283.3 791.4,286.0 790.7,288.3 789.8,290.2 788.5,291.8 787.0,292.9" fill="none" stroke="#000" stroke-width="0.95" stroke-linejoin="round" stroke-linecap="round" />
<polyline points="767.0,252.2 768.8,252.0 770.8,252.3 772.8,253.1 774.9,254.3 776.9,256.0 778.9,258.1 780.8,260.5 782.5,263.2 784.1,266.2 785.4,269.3 786.5,272.5 787.3,275.7 787.8,278.9 788.0,282.0 788.0,284.9 787.6,287.5 786.9,289.8 785.9,291.8 784.6,293.3 783.2,294.4" fill="none" stroke="#000" stroke-width="1.2" stroke-linejoin="round" stroke-linecap="round" />
<polyline points="765.0,253.0 766.8,252.8 768.8,253.1 770.8,253.9 772.9,255.1 774.9,256.8 776.9,258.9 778.8,261.3 780.5,264.0 782.1,266.9 783.4,270.0 784.5,273.3 785.3,276.5 785.8,279.7 786.1,282.8 786.0,285.6 785.6,288.3 784.9,290.6 783.9,292.5 782.6,294.1 781.2,295.2" fill="none" stroke="#000" stroke-width="0.95" stroke-linejoin="round" stroke-linecap="round" />
<polyline points="761.1,254.5 762.9,254.3 764.9,254.6 766.9,255.4 769.0,256.6 771.0,258.3 773.0,260.4 774.9,262.8 776.6,265.5 778.2,268.5 779.5,271.6 780.6,274.8 781.4,278.0 781.9,281.2 782.2,284.3 782.1,287.2 781.7,289.8 781.0,292.1 780.0,294.1 778.7,295.6 777.3,296.7" fill="none" stroke="#000" stroke-width="1.2" stroke-linejoin="round" stroke-linecap="round" />
<polyline points="759.1,255.3 760.9,255.1 762.9,255.4 764.9,256.2 767.0,257.4 769.0,259.1 771.0,261.1 772.9,263.6 774.6,266.3 776.2,269.2 777.5,272.3 778.6,275.6 779.4,278.8 779.9,282.0 780.2,285.1 780.1,287.9 779.7,290.6 779.0,292.9 778.0,294.9 776.7,296.4 775.3,297.5" fill="none" stroke="#000" stroke-width="0.95" stroke-linejoin="round" stroke-linecap="round" />
<polyline points="755.2,256.8 757.0,256.6 759.0,256.9 761.0,257.7 763.1,258.9 765.1,260.6 767.1,262.7 769.0,265.1 770.7,267.8 772.3,270.7 773.6,273.9 774.7,277.1 775.5,280.3 776.1,283.5 776.3,286.6 776.2,289.5 775.8,292.1 775.1,294.4 774.1,296.4 772.8,297.9 771.4,299.0" fill="none" stroke="#000" stroke-width="1.2" stroke-linejoin="round" stroke-linecap="round" />
<polyline points="753.2,257.6 755.0,257.4 757.0,257.7 759.0,258.4 761.1,259.7 763.1,261.4 765.1,263.4 767.0,265.9 768.7,268.6 770.3,271.5 771.6,274.6 772.7,277.9 773.5,281.1 774.1,284.3 774.3,287.4 774.2,290.3 773.8,292.9 773.1,295.2 772.1,297.2 770.8,298.7 769.4,299.8" fill="none" stroke="#000" stroke-width="0.95" stroke-linejoin="round" stroke-linecap="round" />
<polyline points="749.3,259.1 751.1,258.9 753.1,259.2 755.1,260.0 757.2,261.2 759.2,262.9 761.2,264.9 763.1,267.4 764.8,270.1 766.4,273.0 767.7,276.2 768.8,279.4 769.6,282.6 770.2,285.8 770.4,288.9 770.3,291.8 769.9,294.4 769.2,296.7 768.2,298.7 767.0,300.2 765.5,301.4" fill="none" stroke="#000" stroke-width="1.2" stroke-linejoin="round" stroke-linecap="round" />
<polyline points="747.3,259.8 749.1,259.7 751.1,260.0 753.1,260.7 755.2,262.0 757.2,263.7 759.2,265.7 761.1,268.1 762.8,270.9 764.4,273.8 765.7,276.9 766.8,280.2 767.6,283.4 768.2,286.6 768.4,289.7 768.3,292.6 767.9,295.2 767.2,297.5 766.2,299.5 765.0,301.0 763.5,302.1" fill="none" stroke="#000" stroke-width="0.95" stroke-linejoin="round" stroke-linecap="round" />
<polyline points="743.4,261.3 745.2,261.2 747.2,261.5 749.2,262.2 751.3,263.5 753.3,265.2 755.3,267.2 757.2,269.7 759.0,272.4 760.5,275.3 761.9,278.5 762.9,281.7 763.8,284.9 764.3,288.1 764.5,291.2 764.4,294.1 764.0,296.7 763.3,299.1 762.3,301.0 761.1,302.6 759.6,303.7" fill="none" stroke="#000" stroke-width="1.2" stroke-linejoin="round" stroke-linecap="round" />
<polyline points="741.4,262.1 743.2,261.9 745.2,262.2 747.2,263.0 749.3,264.3 751.3,265.9 753.3,268.0 755.2,270.4 757.0,273.2 758.5,276.1 759.9,279.2 760.9,282.5 761.8,285.7 762.3,288.9 762.5,292.0 762.4,294.9 762.0,297.5 761.3,299.8 760.3,301.8 759.1,303.4 757.6,304.5" fill="none" stroke="#000" stroke-width="0.95" stroke-linejoin="round" stroke-linecap="round" />
<polyline points="737.5,263.6 739.3,263.4 741.3,263.7 743.3,264.5 745.4,265.8 747.4,267.5 749.4,269.5 751.3,272.0 753.1,274.7 754.6,277.6 756.0,280.8 757.1,284.0 757.9,287.2 758.4,290.4 758.6,293.5 758.5,296.4 758.1,299.0 757.4,301.4 756.4,303.3 755.2,304.9 753.7,306.0" fill="none" stroke="#000" stroke-width="1.2" stroke-linejoin="round" stroke-linecap="round" />
<polyline points="735.5,264.4 737.3,264.2 739.3,264.5 741.3,265.3 743.4,266.5 745.4,268.2 747.4,270.3 749.3,272.7 751.1,275.5 752.6,278.4 754.0,281.5 755.1,284.8 755.9,288.0 756.4,291.2 756.6,294.3 756.5,297.2 756.1,299.8 755.4,302.2 754.4,304.1 753.2,305.7 751.7,306.8" fill="none" stroke="#000" stroke-width="0.95" stroke-linejoin="round" stroke-linecap="round" />
<polyline points="731.6,265.9 733.4,265.7 735.4,266.0 737.4,266.8 739.5,268.1 741.5,269.7 743.5,271.8 745.4,274.2 747.2,277.0 748.7,279.9 750.1,283.1 751.2,286.3 752.0,289.5 752.5,292.7 752.7,295.8 752.6,298.7 752.2,301.4 751.5,303.7 750.5,305.6 749.3,307.2 747.8,308.3" fill="none" stroke="#000" stroke-width="1.2" stroke-linejoin="round" stroke-linecap="round" />
<polyline points="729.6,266.7 731.4,266.5 733.4,266.8 735.4,267.6 737.5,268.8 739.5,270.5 741.5,272.6 743.4,275.0 745.2,277.7 746.7,280.7 748.1,283.8 749.2,287.1 750.0,290.3 750.5,293.5 750.7,296.6 750.6,299.5 750.2,302.1 749.5,304.5 748.5,306.4 747.3,308.0 745.8,309.1" fill="none" stroke="#000" stroke-width="0.95" stroke-linejoin="round" stroke-linecap="round" />
<polyline points="725.7,268.2 727.5,268.0 729.5,268.3 731.5,269.1 733.6,270.3 735.6,272.0 737.6,274.1 739.5,276.5 741.3,279.3 742.8,282.2 744.2,285.4 745.3,288.6 746.1,291.8 746.6,295.0 746.8,298.1 746.7,301.0 746.3,303.7 745.6,306.0 744.6,308.0 743.4,309.5 741.9,310.6" fill="none" stroke="#000" stroke-width="1.2" stroke-linejoin="round" stroke-linecap="round" />
<polyline points="723.7,269.0 725.5,268.8 727.5,269.1 729.5,269.9 731.6,271.1 733.6,272.8 735.6,274.9 737.5,277.3 739.3,280.0 740.8,283.0 742.2,286.1 743.3,289.4 744.1,292.6 744.6,295.8 744.8,298.9 744.7,301.8 744.3,304.5 743.6,306.8 742.6,308.7 741.4,310.3 739.9,311.4" fill="none" stroke="#000" stroke-width="0.95" stroke-linejoin="round" stroke-linecap="round" />
<polyline points="719.8,270.5 721.6,270.3 723.6,270.6 725.6,271.4 727.7,272.6 729.7,274.3 731.7,276.4 733.6,278.8 735.4,281.6 736.9,284.5 738.3,287.7 739.4,290.9 740.2,294.1 740.7,297.4 740.9,300.4 740.8,303.3 740.4,306.0 739.7,308.3 738.7,310.3 737.5,311.8 736.0,312.9" fill="none" stroke="#000" stroke-width="1.2" stroke-linejoin="round" stroke-linecap="round" />
<polyline points="717.8,271.3 719.6,271.1 721.6,271.4 723.6,272.2 725.7,273.4 727.7,275.1 729.7,277.2 731.6,279.6 733.4,282.3 734.9,285.3 736.3,288.4 737.4,291.7 738.2,294.9 738.7,298.1 738.9,301.2 738.8,304.1 738.4,306.8 737.7,309.1 736.7,311.1 735.5,312.6 734.0,313.7" fill="none" stroke="#000" stroke-width="0.95" stroke-linejoin="round" stroke-linecap="round" />
<polyline points="713.8,272.8 715.7,272.6 717.6,272.9 719.7,273.7 721.8,274.9 723.8,276.6 725.8,278.7 727.7,281.1 729.5,283.9 731.1,286.8 732.4,290.0 733.5,293.2 734.3,296.4 734.8,299.7 735.0,302.7 734.9,305.6 734.5,308.3 733.8,310.6 732.8,312.6 731.6,314.2 730.1,315.3" fill="none" stroke="#000" stroke-width="1.2" stroke-linejoin="round" stroke-linecap="round" />
<polyline points="711.8,273.5 713.7,273.4 715.6,273.7 717.7,274.4 719.8,275.7 721.8,277.4 723.8,279.5 725.7,281.9 727.5,284.6 729.1,287.6 730.4,290.7 731.5,294.0 732.3,297.2 732.8,300.4 733.0,303.5 733.0,306.4 732.5,309.1 731.8,311.4 730.9,313.4 729.6,314.9 728.1,316.0" fill="none" stroke="#000" stroke-width="0.95" stroke-linejoin="round" stroke-linecap="round" />
<polyline points="707.9,275.1 709.8,274.9 711.7,275.2 713.8,276.0 715.9,277.2 717.9,278.9 719.9,281.0 721.8,283.4 723.6,286.1 725.2,289.1 726.5,292.3 727.6,295.5 728.4,298.7 728.9,302.0 729.2,305.1 729.1,308.0 728.7,310.6 727.9,312.9 727.0,314.9 725.7,316.5 724.2,317.6" fill="none" stroke="#000" stroke-width="1.2" stroke-linejoin="round" stroke-linecap="round" />
<polyline points="705.9,275.8 707.8,275.6 709.7,275.9 711.8,276.7 713.9,278.0 715.9,279.7 717.9,281.8 719.8,284.2 721.6,286.9 723.2,289.9 724.5,293.0 725.6,296.3 726.4,299.5 726.9,302.7 727.2,305.8 727.1,308.7 726.7,311.4 726.0,313.7 725.0,315.7 723.7,317.3 722.2,318.4" fill="none" stroke="#000" stroke-width="0.95" stroke-linejoin="round" stroke-linecap="round" />
<polyline points="702.0,277.3 703.9,277.2 705.8,277.5 707.9,278.2 710.0,279.5 712.0,281.2 714.0,283.3 715.9,285.7 717.7,288.4 719.3,291.4 720.6,294.5 721.7,297.8 722.5,301.1 723.1,304.3 723.3,307.4 723.2,310.3 722.8,312.9 722.1,315.3 721.1,317.2 719.8,318.8 718.3,319.9" fill="none" stroke="#000" stroke-width="1.2" stroke-linejoin="round" stroke-linecap="round" />
<polyline points="700.0,278.1 701.9,277.9 703.8,278.2 705.9,279.0 708.0,280.3 710.0,282.0 712.0,284.0 713.9,286.5 715.7,289.2 717.3,292.2 718.6,295.3 719.7,298.6 720.5,301.8 721.1,305.1 721.3,308.1 721.2,311.1 720.8,313.7 720.1,316.0 719.1,318.0 717.8,319.6 716.3,320.7" fill="none" stroke="#000" stroke-width="0.95" stroke-linejoin="round" stroke-linecap="round" />
<polyline points="696.1,279.6 698.0,279.4 699.9,279.7 702.0,280.5 704.1,281.8 706.1,283.5 708.1,285.6 710.0,288.0 711.8,290.7 713.4,293.7 714.7,296.8 715.8,300.1 716.6,303.4 717.2,306.6 717.4,309.7 717.3,312.6 716.9,315.2 716.2,317.6 715.2,319.5 713.9,321.1 712.4,322.2" fill="none" stroke="#000" stroke-width="1.2" stroke-linejoin="round" stroke-linecap="round" />
<polyline points="694.1,280.4 696.0,280.2 697.9,280.5 700.0,281.3 702.1,282.6 704.1,284.2 706.1,286.3 708.0,288.8 709.8,291.5 711.4,294.5 712.7,297.6 713.8,300.9 714.6,304.1 715.2,307.4 715.4,310.5 715.3,313.4 714.9,316.0 714.2,318.4 713.2,320.3 711.9,321.9 710.4,323.0" fill="none" stroke="#000" stroke-width="0.95" stroke-linejoin="round" stroke-linecap="round" />
<polyline points="690.2,281.9 692.1,281.7 694.0,282.0 696.1,282.8 698.2,284.1 700.2,285.8 702.2,287.8 704.2,290.3 705.9,293.0 707.5,296.0 708.8,299.1 709.9,302.4 710.7,305.7 711.3,308.9 711.5,312.0 711.4,314.9 711.0,317.5 710.3,319.9 709.3,321.9 708.0,323.4 706.5,324.5" fill="none" stroke="#000" stroke-width="1.2" stroke-linejoin="round" stroke-linecap="round" />
<polyline points="688.2,282.7 690.1,282.5 692.0,282.8 694.1,283.6 696.2,284.8 698.2,286.5 700.2,288.6 702.2,291.1 703.9,293.8 705.5,296.8 706.8,299.9 707.9,303.2 708.8,306.4 709.3,309.7 709.5,312.8 709.4,315.7 709.0,318.3 708.3,320.7 707.3,322.6 706.0,324.2 704.5,325.3" fill="none" stroke="#000" stroke-width="0.95" stroke-linejoin="round" stroke-linecap="round" />
<polyline points="684.3,284.2 686.2,284.0 688.1,284.3 690.2,285.1 692.3,286.4 694.3,288.0 696.4,290.1 698.3,292.6 700.0,295.3 701.6,298.3 702.9,301.4 704.0,304.7 704.9,308.0 705.4,311.2 705.6,314.3 705.5,317.2 705.1,319.9 704.4,322.2 703.4,324.2 702.1,325.7 700.6,326.8" fill="none" stroke="#000" stroke-width="1.2" stroke-linejoin="round" stroke-linecap="round" />
<polyline points="682.3,285.0 684.2,284.8 686.1,285.1 688.2,285.9 690.3,287.1 692.3,288.8 694.4,290.9 696.3,293.4 698.0,296.1 699.6,299.1 700.9,302.2 702.0,305.5 702.9,308.7 703.4,312.0 703.6,315.1 703.5,318.0 703.1,320.6 702.4,323.0 701.4,325.0 700.1,326.5 698.7,327.6" fill="none" stroke="#000" stroke-width="0.95" stroke-linejoin="round" stroke-linecap="round" />
<polyline points="678.4,286.5 680.3,286.3 682.2,286.6 684.3,287.4 686.4,288.6 688.4,290.3 690.5,292.4 692.4,294.9 694.1,297.6 695.7,300.6 697.0,303.7 698.1,307.0 699.0,310.3 699.5,313.5 699.7,316.6 699.6,319.5 699.2,322.2 698.5,324.5 697.5,326.5 696.2,328.1 694.8,329.2" fill="none" stroke="#000" stroke-width="1.2" stroke-linejoin="round" stroke-linecap="round" />
<polyline points="676.4,287.3 678.3,287.1 680.2,287.4 682.3,288.2 684.4,289.4 686.4,291.1 688.5,293.2 690.4,295.6 692.1,298.4 693.7,301.4 695.1,304.5 696.2,307.8 697.0,311.0 697.5,314.3 697.7,317.4 697.6,320.3 697.2,323.0 696.5,325.3 695.5,327.3 694.2,328.8 692.8,330.0" fill="none" stroke="#000" stroke-width="0.95" stroke-linejoin="round" stroke-linecap="round" />
<polyline points="672.5,288.8 674.4,288.6 676.3,288.9 678.4,289.7 680.5,290.9 682.5,292.6 684.6,294.7 686.5,297.2 688.2,299.9 689.8,302.9 691.2,306.0 692.3,309.3 693.1,312.6 693.6,315.8 693.8,318.9 693.7,321.8 693.3,324.5 692.6,326.8 691.6,328.8 690.4,330.4 688.9,331.5" fill="none" stroke="#000" stroke-width="1.2" stroke-linejoin="round" stroke-linecap="round" />
<polyline points="670.5,289.5 672.4,289.4 674.3,289.7 676.4,290.4 678.5,291.7 680.5,293.4 682.6,295.5 684.5,297.9 686.2,300.7 687.8,303.7 689.2,306.8 690.3,310.1 691.1,313.4 691.6,316.6 691.8,319.7 691.7,322.6 691.3,325.3 690.6,327.6 689.6,329.6 688.4,331.2 686.9,332.3" fill="none" stroke="#000" stroke-width="0.95" stroke-linejoin="round" stroke-linecap="round" />
<polyline points="666.6,291.1 668.5,290.9 670.4,291.2 672.5,292.0 674.6,293.2 676.6,294.9 678.7,297.0 680.6,299.5 682.3,302.2 683.9,305.2 685.3,308.3 686.4,311.6 687.2,314.9 687.7,318.1 687.9,321.2 687.8,324.1 687.4,326.8 686.7,329.1 685.7,331.1 684.5,332.7 683.0,333.8" fill="none" stroke="#000" stroke-width="1.2" stroke-linejoin="round" stroke-linecap="round" />
<polyline points="664.6,291.8 666.5,291.6 668.4,291.9 670.5,292.7 672.6,294.0 674.6,295.7 676.7,297.8 678.6,300.2 680.3,303.0 681.9,306.0 683.3,309.1 684.4,312.4 685.2,315.7 685.7,318.9 685.9,322.0 685.8,324.9 685.4,327.6 684.7,329.9 683.7,331.9 682.5,333.5 681.0,334.6" fill="none" stroke="#000" stroke-width="0.95" stroke-linejoin="round" stroke-linecap="round" />
<polyline points="660.7,293.3 662.5,293.2 664.5,293.5 666.6,294.2 668.7,295.5 670.7,297.2 672.8,299.3 674.7,301.7 676.4,304.5 678.0,307.5 679.4,310.6 680.5,313.9 681.3,317.2 681.8,320.4 682.0,323.5 681.9,326.4 681.5,329.1 680.8,331.5 679.8,333.4 678.6,335.0 677.1,336.1" fill="none" stroke="#000" stroke-width="1.2" stroke-linejoin="round" stroke-linecap="round" />
<polyline points="658.7,294.1 660.5,293.9 662.5,294.2 664.6,295.0 666.7,296.3 668.7,298.0 670.8,300.1 672.7,302.5 674.4,305.3 676.0,308.3 677.4,311.4 678.5,314.7 679.3,318.0 679.8,321.2 680.0,324.3 679.9,327.2 679.5,329.9 678.8,332.2 677.8,334.2 676.6,335.8 675.1,336.9" fill="none" stroke="#000" stroke-width="0.95" stroke-linejoin="round" stroke-linecap="round" />
<polyline points="654.8,295.6 656.6,295.4 658.6,295.7 660.7,296.5 662.8,297.8 664.8,299.5 666.9,301.6 668.8,304.0 670.5,306.8 672.1,309.8 673.5,312.9 674.6,316.2 675.4,319.5 675.9,322.7 676.2,325.8 676.1,328.8 675.6,331.4 674.9,333.8 673.9,335.8 672.7,337.3 671.2,338.4" fill="none" stroke="#000" stroke-width="1.2" stroke-linejoin="round" stroke-linecap="round" />
<polyline points="652.8,296.4 654.6,296.2 656.6,296.5 658.7,297.3 660.8,298.6 662.9,300.3 664.9,302.4 666.8,304.8 668.6,307.6 670.1,310.6 671.5,313.7 672.6,317.0 673.4,320.3 673.9,323.5 674.2,326.6 674.1,329.5 673.7,332.2 672.9,334.6 671.9,336.5 670.7,338.1 669.2,339.2" fill="none" stroke="#000" stroke-width="0.95" stroke-linejoin="round" stroke-linecap="round" />
<polyline points="648.9,297.9 650.7,297.7 652.7,298.0 654.8,298.8 656.9,300.1 659.0,301.8 661.0,303.9 662.9,306.3 664.7,309.1 666.2,312.1 667.6,315.2 668.7,318.5 669.5,321.8 670.0,325.0 670.3,328.1 670.2,331.1 669.8,333.7 669.0,336.1 668.0,338.1 666.8,339.6 665.3,340.8" fill="none" stroke="#000" stroke-width="1.2" stroke-linejoin="round" stroke-linecap="round" />
<polyline points="646.9,298.7 648.7,298.5 650.7,298.8 652.8,299.6 654.9,300.8 657.0,302.5 659.0,304.6 660.9,307.1 662.7,309.9 664.2,312.9 665.6,316.0 666.7,319.3 667.5,322.6 668.0,325.8 668.3,328.9 668.2,331.8 667.8,334.5 667.1,336.9 666.1,338.9 664.8,340.4 663.3,341.5" fill="none" stroke="#000" stroke-width="0.95" stroke-linejoin="round" stroke-linecap="round" />
<polyline points="643.0,300.2 644.8,300.0 646.8,300.3 648.9,301.1 651.0,302.4 653.1,304.1 655.1,306.2 657.0,308.6 658.8,311.4 660.3,314.4 661.7,317.5 662.8,320.8 663.6,324.1 664.2,327.3 664.4,330.4 664.3,333.4 663.9,336.0 663.2,338.4 662.2,340.4 660.9,342.0 659.4,343.1" fill="none" stroke="#000" stroke-width="1.2" stroke-linejoin="round" stroke-linecap="round" />
<polyline points="641.0,301.0 642.8,300.8 644.8,301.1 646.9,301.9 649.0,303.1 651.1,304.8 653.1,306.9 655.0,309.4 656.8,312.2 658.3,315.1 659.7,318.3 660.8,321.6 661.6,324.9 662.2,328.1 662.4,331.2 662.3,334.2 661.9,336.8 661.2,339.2 660.2,341.2 658.9,342.7 657.4,343.9" fill="none" stroke="#000" stroke-width="0.95" stroke-linejoin="round" stroke-linecap="round" />
<polyline points="637.1,302.5 638.9,302.3 640.9,302.6 643.0,303.4 645.1,304.6 647.2,306.3 649.2,308.5 651.1,310.9 652.9,313.7 654.5,316.7 655.8,319.8 656.9,323.1 657.7,326.4 658.3,329.6 658.5,332.8 658.4,335.7 658.0,338.4 657.3,340.7 656.3,342.7 655.0,344.3 653.5,345.4" fill="none" stroke="#000" stroke-width="1.2" stroke-linejoin="round" stroke-linecap="round" />
<polyline points="635.1,303.3 636.9,303.1 638.9,303.4 641.0,304.2 643.1,305.4 645.2,307.1 647.2,309.2 649.1,311.7 650.9,314.4 652.5,317.4 653.8,320.6 654.9,323.9 655.7,327.2 656.3,330.4 656.5,333.5 656.4,336.5 656.0,339.1 655.3,341.5 654.3,343.5 653.0,345.1 651.5,346.2" fill="none" stroke="#000" stroke-width="0.95" stroke-linejoin="round" stroke-linecap="round" />
</g>
<polygon points="671.9,344.1 818.8,289.0 820.0,288.7 821.3,288.6 822.6,288.7 823.9,289.1 825.3,289.7 826.8,290.5 828.2,291.6 829.6,292.8 830.9,294.2 832.2,295.8 833.5,297.6 834.7,299.4 835.8,301.4 836.8,303.5 837.7,305.7 838.4,307.8 839.1,310.1 839.6,312.3 839.9,314.5 840.1,316.6 840.2,318.7 840.1,320.6 839.9,322.5 839.5,324.2 839.0,325.7 838.4,327.1 837.6,328.3 836.7,329.3 835.7,330.0 834.6,330.6 688.1,386.5" fill="url(#r2f)" stroke="#111" stroke-width="0.9" stroke-linejoin="round" />
<path d="M603.8,267.5 C605,262 613,261.5 618,267 C621,271 622,275 622.3,279 Z" fill="#1a2ba6" stroke="#111" stroke-width="0.8" stroke-linejoin="round" />
<polygon points="582.9,273.7 601.8,267.3 647.6,295.5 628.7,302.5" fill="#0b8fd0" stroke="#111" stroke-width="0.8" stroke-linejoin="round" />
<polygon points="628.7,302.5 650.5,295.2 661.5,324.4" fill="#0a7bb8" stroke="#111" stroke-width="0.8" stroke-linejoin="round" />
<path d="M650.5,294.6 C658,292 668,301 669.5,313.4 C670,319 666,324 661.5,324 C661,313 657,303 650.5,294.6 Z" fill="url(#nutd)" stroke="#111" stroke-width="0.8" stroke-linejoin="round" />
<polygon points="397.8,291.5 531.5,241.7 676.0,334.5 542.7,384.6" fill="#ffffff" stroke="#000" stroke-width="1.15" stroke-linejoin="round" />
<polygon points="373.9,264.6 376.9,254.7 487.4,212.9 507.3,213.9 531.5,229.8 397.8,279.5" fill="#ffffff" stroke="#000" stroke-width="1.15" stroke-linejoin="round" />
<polygon points="397.8,279.5 531.5,229.8 531.5,241.7 397.8,291.5" fill="#beaac2" stroke="#000" stroke-width="1.15" stroke-linejoin="round" />
<ellipse cx="401.8" cy="260.3" rx="8.7" ry="4.6" fill="none" stroke="#1f8fd0" stroke-width="1.2" transform="rotate(-3 401.8 260.3)" stroke-dasharray="3 1.2"/>
<ellipse cx="401.8" cy="259.6" rx="8.2" ry="4.1" fill="url(#hole)" stroke="#0a0a0a" stroke-width="1.25" transform="rotate(-3 401.8 259.6)" />
<ellipse cx="446.2" cy="242.7" rx="8.2" ry="4.1" fill="url(#hole)" stroke="#0a0a0a" stroke-width="1.25" transform="rotate(-3 446.2 242.7)" />
<ellipse cx="490.3" cy="226.9" rx="8.7" ry="4.6" fill="none" stroke="#1f8fd0" stroke-width="1.2" transform="rotate(-3 490.3 226.9)" stroke-dasharray="3 1.2"/>
<ellipse cx="490.3" cy="226.2" rx="8.2" ry="4.1" fill="url(#hole)" stroke="#0a0a0a" stroke-width="1.25" transform="rotate(-3 490.3 226.2)" />
<polygon points="373.9,264.6 397.8,279.5 397.8,291.5 542.7,384.6 543.3,373.6 566.6,388.5 566.0,490.8 373.9,369.8" fill="#efefef" stroke="#000" stroke-width="1.15" stroke-linejoin="round" />
<polygon points="436.8,365.5 436.7,368.9 436.3,372.1 435.7,375.1 434.8,377.8 433.6,380.2 432.2,382.3 430.7,384.0 428.9,385.3 426.9,386.3 424.8,386.8 422.6,387.0 420.2,386.7 417.8,386.0 415.3,385.0 412.8,383.5 410.2,381.7 407.7,379.5 405.3,377.0 402.9,374.2 400.7,371.1 398.6,367.9 396.6,364.4 394.8,360.7 393.3,356.9 391.9,353.1 390.7,349.2 389.8,345.3 389.2,341.5 388.8,337.7 388.7,334.1 388.8,330.7 389.2,327.5 389.8,324.5 390.7,321.8 391.9,319.4 393.3,317.3 394.8,315.6 396.6,314.3 398.6,313.3 400.7,312.8 402.9,312.6 405.3,312.9 407.7,313.6 410.2,314.6 412.8,316.1 415.3,317.9 417.8,320.1 420.2,322.6 422.6,325.4 424.8,328.5 426.9,331.7 428.9,335.2 430.7,338.9 432.2,342.7 433.6,346.5 434.8,350.4 435.7,354.3 436.3,358.1 436.7,361.9" fill="url(#chh)" stroke="#111" stroke-width="0.9" stroke-linejoin="round" />
<polygon points="493.6,402.3 493.5,405.7 493.1,408.9 492.4,411.9 491.5,414.6 490.4,417.0 489.0,419.1 487.4,420.8 485.6,422.1 483.7,423.1 481.5,423.6 479.3,423.8 476.9,423.5 474.5,422.8 472.0,421.8 469.5,420.3 467.0,418.5 464.5,416.3 462.1,413.8 459.7,411.0 457.5,407.9 455.3,404.7 453.4,401.2 451.6,397.5 450.0,393.7 448.6,389.9 447.5,386.0 446.6,382.1 445.9,378.3 445.5,374.5 445.4,370.9 445.5,367.5 445.9,364.3 446.6,361.3 447.5,358.6 448.6,356.2 450.0,354.1 451.6,352.4 453.4,351.1 455.3,350.1 457.5,349.6 459.7,349.4 462.1,349.7 464.5,350.4 467.0,351.4 469.5,352.9 472.0,354.7 474.5,356.9 476.9,359.4 479.3,362.2 481.5,365.3 483.7,368.5 485.6,372.0 487.4,375.7 489.0,379.5 490.4,383.3 491.5,387.2 492.4,391.1 493.1,394.9 493.5,398.7" fill="url(#chh)" stroke="#111" stroke-width="0.9" stroke-linejoin="round" />
<polygon points="550.5,439.1 550.4,442.5 550.0,445.7 549.3,448.7 548.4,451.4 547.3,453.8 545.9,455.9 544.3,457.6 542.5,458.9 540.6,459.9 538.4,460.4 536.2,460.6 533.8,460.3 531.4,459.6 528.9,458.6 526.4,457.1 523.9,455.3 521.4,453.1 519.0,450.6 516.6,447.8 514.4,444.7 512.2,441.5 510.3,438.0 508.5,434.3 506.9,430.5 505.5,426.7 504.4,422.8 503.5,418.9 502.8,415.1 502.4,411.3 502.3,407.7 502.4,404.3 502.8,401.1 503.5,398.1 504.4,395.4 505.5,393.0 506.9,390.9 508.5,389.2 510.3,387.9 512.2,386.9 514.4,386.4 516.6,386.2 519.0,386.5 521.4,387.2 523.9,388.2 526.4,389.7 528.9,391.5 531.4,393.7 533.8,396.2 536.2,399.0 538.4,402.1 540.6,405.3 542.5,408.8 544.3,412.5 545.9,416.3 547.3,420.1 548.4,424.0 549.3,427.9 550.0,431.7 550.4,435.5" fill="url(#chh)" stroke="#111" stroke-width="0.9" stroke-linejoin="round" />
<polygon points="543.3,373.6 676.0,323.5 698.9,337.8 695.9,347.7 586.5,388.5 566.6,388.5" fill="#ffffff" stroke="#000" stroke-width="1.15" stroke-linejoin="round" />
<ellipse cx="583.9" cy="377.2" rx="8.7" ry="4.6" fill="none" stroke="#1f8fd0" stroke-width="1.2" transform="rotate(-3 583.9 377.2)" stroke-dasharray="3 1.2"/>
<ellipse cx="583.9" cy="376.5" rx="8.2" ry="4.1" fill="url(#hole)" stroke="#0a0a0a" stroke-width="1.25" transform="rotate(-3 583.9 376.5)" />
<ellipse cx="627.9" cy="359.2" rx="8.2" ry="4.1" fill="url(#hole)" stroke="#0a0a0a" stroke-width="1.25" transform="rotate(-3 627.9 359.2)" />
<ellipse cx="672.2" cy="343.4" rx="8.7" ry="4.6" fill="none" stroke="#1f8fd0" stroke-width="1.2" transform="rotate(-3 672.2 343.4)" stroke-dasharray="3 1.2"/>
<ellipse cx="672.2" cy="342.7" rx="8.2" ry="4.1" fill="url(#hole)" stroke="#0a0a0a" stroke-width="1.25" transform="rotate(-3 672.2 342.7)" />
<polygon points="566.6,388.5 586.5,388.5 586.0,492.0 566.0,490.8" fill="#8a8a8a" stroke="#000" stroke-width="1.15" stroke-linejoin="round" />
<polygon points="586.5,388.5 695.9,347.7 695.3,450.4 586.0,492.0" fill="#beaac2" stroke="#000" stroke-width="1.15" stroke-linejoin="round" />
<polygon points="695.9,347.7 698.9,337.8 698.5,440.4 695.3,450.4" fill="#d6cedb" stroke="#111" stroke-width="0.8" stroke-linejoin="round" />
<polygon points="111.5,440.9 421.0,323.5 421.4,324.0 421.8,324.4 422.2,324.9 422.6,325.4 422.9,325.9 423.3,326.4 423.7,326.9 424.1,327.4 424.4,327.9 424.8,328.5 425.2,329.0 425.5,329.5 425.9,330.1 426.2,330.6 426.6,331.2 426.9,331.7 427.3,332.3 427.6,332.9 427.9,333.5 428.2,334.1 428.6,334.6 428.9,335.2 429.2,335.8 429.5,336.4 429.8,337.1 430.1,337.7 430.4,338.3 430.7,338.9 430.9,339.5 431.2,340.1 431.5,340.8 431.7,341.4 432.0,342.0 432.2,342.7 432.5,343.3 432.7,343.9 433.0,344.6 433.2,345.2 433.4,345.9 433.6,346.5 433.8,347.2 434.0,347.8 434.2,348.5 434.4,349.1 434.6,349.8 434.8,350.4 434.9,351.1 435.1,351.7 435.2,352.4 435.4,353.0 435.5,353.6 435.7,354.3 435.8,354.9 435.9,355.6 436.0,356.2 436.1,356.9 436.2,357.5 436.3,358.1 436.4,358.8 436.5,359.4 436.5,360.0 436.6,360.6 436.7,361.2 436.7,361.9 436.8,362.5 436.8,363.1 436.8,363.7 128.5,483.9" fill="url(#r1b)" stroke="#111" stroke-width="0.9" stroke-linejoin="round" />
<polygon points="171.8,477.3 478.9,361.7 479.3,362.2 479.7,362.7 480.1,363.2 480.4,363.7 480.8,364.2 481.2,364.7 481.5,365.3 481.9,365.8 482.3,366.3 482.6,366.9 483.0,367.4 483.3,368.0 483.7,368.5 484.0,369.1 484.3,369.7 484.7,370.3 485.0,370.9 485.3,371.4 485.6,372.0 485.9,372.6 486.2,373.2 486.5,373.9 486.8,374.5 487.1,375.1 487.4,375.7 487.7,376.3 488.0,376.9 488.2,377.6 488.5,378.2 488.7,378.8 489.0,379.5 489.2,380.1 489.5,380.7 489.7,381.4 489.9,382.0 490.2,382.7 490.4,383.3 490.6,384.0 490.8,384.6 491.0,385.3 491.2,385.9 491.3,386.6 491.5,387.2 491.7,387.9 491.8,388.5 492.0,389.2 492.1,389.8 492.3,390.4 492.4,391.1 492.5,391.7 492.7,392.4 492.8,393.0 492.9,393.7 493.0,394.3 493.1,394.9 493.2,395.6 493.2,396.2 493.3,396.8 493.4,397.4 493.4,398.0 493.5,398.7 493.5,399.3 493.5,399.9 493.6,400.5 493.6,401.1 493.6,401.7 188.2,519.1" fill="url(#s1)" stroke="#111" stroke-width="0.9" stroke-linejoin="round" />
<g clip-path="url(#clip_s1)">
<polyline points="484.5,359.5 486.2,359.4 488.1,359.7 490.0,360.4 492.0,361.6 493.9,363.1 495.8,365.1 497.6,367.4 499.3,369.9 500.8,372.7 502.1,375.6 503.1,378.6 503.9,381.7 504.4,384.6 504.6,387.5 504.5,390.2 504.2,392.7 503.5,394.9 502.6,396.7 501.4,398.1 500.0,399.1" fill="none" stroke="#000" stroke-width="1.2" stroke-linejoin="round" stroke-linecap="round" />
<polyline points="482.5,360.3 484.2,360.1 486.1,360.4 488.0,361.2 490.0,362.3 491.9,363.9 493.8,365.9 495.6,368.1 497.3,370.7 498.8,373.4 500.1,376.4 501.1,379.4 501.9,382.4 502.4,385.4 502.6,388.3 502.5,391.0 502.2,393.4 501.5,395.6 500.6,397.4 499.4,398.9 498.0,399.9" fill="none" stroke="#000" stroke-width="0.95" stroke-linejoin="round" stroke-linecap="round" />
<polyline points="478.6,361.8 480.3,361.6 482.2,361.9 484.1,362.6 486.1,363.8 488.0,365.4 489.9,367.3 491.7,369.6 493.4,372.2 494.9,374.9 496.2,377.8 497.2,380.9 498.0,383.9 498.5,386.9 498.7,389.8 498.7,392.5 498.3,394.9 497.6,397.1 496.7,398.9 495.5,400.4 494.1,401.4" fill="none" stroke="#000" stroke-width="1.2" stroke-linejoin="round" stroke-linecap="round" />
<polyline points="476.6,362.5 478.3,362.4 480.2,362.7 482.1,363.4 484.1,364.6 486.0,366.1 487.9,368.1 489.7,370.4 491.4,372.9 492.9,375.7 494.2,378.6 495.2,381.6 496.0,384.7 496.5,387.7 496.7,390.5 496.7,393.2 496.3,395.7 495.6,397.9 494.7,399.7 493.5,401.1 492.1,402.2" fill="none" stroke="#000" stroke-width="0.95" stroke-linejoin="round" stroke-linecap="round" />
<polyline points="472.7,364.0 474.4,363.8 476.3,364.1 478.2,364.9 480.2,366.0 482.1,367.6 484.0,369.6 485.8,371.8 487.5,374.4 489.0,377.2 490.3,380.1 491.3,383.1 492.1,386.1 492.6,389.1 492.8,392.0 492.8,394.7 492.4,397.2 491.7,399.4 490.8,401.2 489.6,402.6 488.2,403.7" fill="none" stroke="#000" stroke-width="1.2" stroke-linejoin="round" stroke-linecap="round" />
<polyline points="470.7,364.8 472.4,364.6 474.3,364.9 476.2,365.6 478.2,366.8 480.1,368.4 482.0,370.3 483.8,372.6 485.5,375.1 487.0,377.9 488.3,380.8 489.3,383.9 490.1,386.9 490.6,389.9 490.8,392.8 490.8,395.5 490.4,398.0 489.7,400.1 488.8,402.0 487.6,403.4 486.2,404.4" fill="none" stroke="#000" stroke-width="0.95" stroke-linejoin="round" stroke-linecap="round" />
<polyline points="466.7,366.2 468.5,366.1 470.4,366.4 472.3,367.1 474.3,368.3 476.2,369.8 478.1,371.8 479.9,374.1 481.6,376.6 483.1,379.4 484.4,382.3 485.4,385.4 486.2,388.4 486.7,391.4 487.0,394.3 486.9,397.0 486.5,399.5 485.8,401.6 484.9,403.5 483.7,404.9 482.3,405.9" fill="none" stroke="#000" stroke-width="1.2" stroke-linejoin="round" stroke-linecap="round" />
<polyline points="464.7,367.0 466.5,366.8 468.3,367.1 470.3,367.9 472.3,369.0 474.2,370.6 476.1,372.6 477.9,374.8 479.6,377.4 481.1,380.2 482.4,383.1 483.4,386.1 484.2,389.2 484.7,392.2 485.0,395.0 484.9,397.7 484.5,400.2 483.8,402.4 482.9,404.2 481.7,405.7 480.3,406.7" fill="none" stroke="#000" stroke-width="0.95" stroke-linejoin="round" stroke-linecap="round" />
<polyline points="460.8,368.5 462.6,368.3 464.4,368.6 466.4,369.3 468.4,370.5 470.3,372.1 472.2,374.0 474.0,376.3 475.7,378.9 477.2,381.6 478.5,384.6 479.6,387.6 480.3,390.6 480.8,393.6 481.1,396.5 481.0,399.2 480.6,401.7 480.0,403.9 479.0,405.7 477.8,407.2 476.4,408.2" fill="none" stroke="#000" stroke-width="1.2" stroke-linejoin="round" stroke-linecap="round" />
<polyline points="458.8,369.2 460.6,369.1 462.4,369.3 464.4,370.1 466.4,371.3 468.3,372.8 470.2,374.8 472.0,377.1 473.7,379.6 475.2,382.4 476.5,385.3 477.6,388.4 478.3,391.4 478.8,394.4 479.1,397.3 479.0,400.0 478.6,402.5 478.0,404.6 477.0,406.5 475.8,407.9 474.4,409.0" fill="none" stroke="#000" stroke-width="0.95" stroke-linejoin="round" stroke-linecap="round" />
<polyline points="454.9,370.7 456.7,370.5 458.5,370.8 460.5,371.6 462.5,372.7 464.4,374.3 466.3,376.3 468.1,378.5 469.8,381.1 471.3,383.9 472.6,386.8 473.7,389.8 474.4,392.9 475.0,395.9 475.2,398.8 475.1,401.5 474.7,404.0 474.1,406.1 473.1,408.0 471.9,409.4 470.5,410.5" fill="none" stroke="#000" stroke-width="1.2" stroke-linejoin="round" stroke-linecap="round" />
<polyline points="452.9,371.5 454.7,371.3 456.5,371.6 458.5,372.3 460.5,373.5 462.4,375.1 464.3,377.0 466.1,379.3 467.8,381.9 469.3,384.6 470.6,387.6 471.7,390.6 472.5,393.7 473.0,396.7 473.2,399.5 473.1,402.3 472.7,404.7 472.1,406.9 471.1,408.7 469.9,410.2 468.5,411.2" fill="none" stroke="#000" stroke-width="0.95" stroke-linejoin="round" stroke-linecap="round" />
<polyline points="449.0,372.9 450.8,372.8 452.6,373.0 454.6,373.8 456.6,375.0 458.5,376.5 460.4,378.5 462.3,380.8 463.9,383.3 465.4,386.1 466.7,389.1 467.8,392.1 468.6,395.1 469.1,398.1 469.3,401.0 469.2,403.7 468.8,406.2 468.2,408.4 467.2,410.2 466.1,411.7 464.6,412.7" fill="none" stroke="#000" stroke-width="1.2" stroke-linejoin="round" stroke-linecap="round" />
<polyline points="447.0,373.7 448.8,373.5 450.6,373.8 452.6,374.5 454.6,375.7 456.5,377.3 458.4,379.3 460.3,381.5 461.9,384.1 463.4,386.9 464.7,389.8 465.8,392.8 466.6,395.9 467.1,398.9 467.3,401.8 467.2,404.5 466.8,407.0 466.2,409.2 465.2,411.0 464.1,412.4 462.7,413.5" fill="none" stroke="#000" stroke-width="0.95" stroke-linejoin="round" stroke-linecap="round" />
<polyline points="443.1,375.2 444.9,375.0 446.7,375.3 448.7,376.0 450.7,377.2 452.6,378.8 454.5,380.7 456.4,383.0 458.0,385.6 459.5,388.4 460.8,391.3 461.9,394.3 462.7,397.4 463.2,400.4 463.4,403.3 463.3,406.0 462.9,408.5 462.3,410.7 461.3,412.5 460.2,413.9 458.8,415.0" fill="none" stroke="#000" stroke-width="1.2" stroke-linejoin="round" stroke-linecap="round" />
<polyline points="441.1,375.9 442.9,375.7 444.7,376.0 446.7,376.8 448.7,378.0 450.6,379.5 452.5,381.5 454.4,383.8 456.0,386.3 457.5,389.1 458.8,392.1 459.9,395.1 460.7,398.1 461.2,401.2 461.4,404.0 461.3,406.8 460.9,409.2 460.3,411.4 459.3,413.3 458.2,414.7 456.8,415.7" fill="none" stroke="#000" stroke-width="0.95" stroke-linejoin="round" stroke-linecap="round" />
<polyline points="437.2,377.4 439.0,377.2 440.8,377.5 442.8,378.3 444.8,379.4 446.7,381.0 448.6,383.0 450.5,385.3 452.1,387.8 453.6,390.6 454.9,393.5 456.0,396.6 456.8,399.6 457.3,402.6 457.5,405.5 457.4,408.3 457.0,410.7 456.4,412.9 455.5,414.7 454.3,416.2 452.9,417.2" fill="none" stroke="#000" stroke-width="1.2" stroke-linejoin="round" stroke-linecap="round" />
<polyline points="435.2,378.1 437.0,378.0 438.8,378.3 440.8,379.0 442.8,380.2 444.7,381.8 446.6,383.7 448.5,386.0 450.1,388.6 451.6,391.4 452.9,394.3 454.0,397.3 454.8,400.4 455.3,403.4 455.5,406.3 455.4,409.0 455.1,411.5 454.4,413.7 453.5,415.5 452.3,417.0 450.9,418.0" fill="none" stroke="#000" stroke-width="0.95" stroke-linejoin="round" stroke-linecap="round" />
<polyline points="431.3,379.6 433.1,379.5 434.9,379.7 436.9,380.5 438.9,381.7 440.8,383.2 442.7,385.2 444.6,387.5 446.2,390.1 447.7,392.8 449.0,395.8 450.1,398.8 450.9,401.9 451.4,404.9 451.6,407.8 451.5,410.5 451.2,413.0 450.5,415.2 449.6,417.0 448.4,418.5 447.0,419.5" fill="none" stroke="#000" stroke-width="1.2" stroke-linejoin="round" stroke-linecap="round" />
<polyline points="429.3,380.4 431.1,380.2 432.9,380.5 434.9,381.2 436.9,382.4 438.8,384.0 440.7,386.0 442.6,388.3 444.2,390.8 445.8,393.6 447.0,396.5 448.1,399.6 448.9,402.6 449.4,405.7 449.6,408.6 449.5,411.3 449.2,413.8 448.5,415.9 447.6,417.8 446.4,419.2 445.0,420.3" fill="none" stroke="#000" stroke-width="0.95" stroke-linejoin="round" stroke-linecap="round" />
<polyline points="425.4,381.8 427.2,381.7 429.0,382.0 431.0,382.7 433.0,383.9 434.9,385.5 436.9,387.4 438.7,389.7 440.4,392.3 441.9,395.1 443.2,398.0 444.2,401.1 445.0,404.1 445.5,407.1 445.7,410.0 445.6,412.8 445.3,415.2 444.6,417.4 443.7,419.3 442.5,420.7 441.1,421.8" fill="none" stroke="#000" stroke-width="1.2" stroke-linejoin="round" stroke-linecap="round" />
<polyline points="423.4,382.6 425.2,382.4 427.0,382.7 429.0,383.5 431.0,384.6 432.9,386.2 434.9,388.2 436.7,390.5 438.4,393.1 439.9,395.8 441.2,398.8 442.2,401.8 443.0,404.9 443.5,407.9 443.7,410.8 443.6,413.5 443.3,416.0 442.6,418.2 441.7,420.0 440.5,421.5 439.1,422.5" fill="none" stroke="#000" stroke-width="0.95" stroke-linejoin="round" stroke-linecap="round" />
<polyline points="419.5,384.1 421.3,383.9 423.1,384.2 425.1,384.9 427.1,386.1 429.0,387.7 431.0,389.7 432.8,392.0 434.5,394.5 436.0,397.3 437.3,400.3 438.3,403.3 439.1,406.4 439.6,409.4 439.8,412.3 439.8,415.0 439.4,417.5 438.7,419.7 437.8,421.5 436.6,423.0 435.2,424.0" fill="none" stroke="#000" stroke-width="1.2" stroke-linejoin="round" stroke-linecap="round" />
<polyline points="417.5,384.8 419.3,384.7 421.1,385.0 423.1,385.7 425.1,386.9 427.0,388.5 429.0,390.4 430.8,392.7 432.5,395.3 434.0,398.1 435.3,401.0 436.3,404.1 437.1,407.1 437.6,410.2 437.8,413.1 437.8,415.8 437.4,418.3 436.7,420.4 435.8,422.3 434.6,423.7 433.2,424.8" fill="none" stroke="#000" stroke-width="0.95" stroke-linejoin="round" stroke-linecap="round" />
<polyline points="413.6,386.3 415.4,386.1 417.2,386.4 419.2,387.2 421.2,388.4 423.1,389.9 425.1,391.9 426.9,394.2 428.6,396.8 430.1,399.6 431.4,402.5 432.4,405.6 433.2,408.6 433.7,411.6 433.9,414.5 433.9,417.3 433.5,419.8 432.8,421.9 431.9,423.8 430.7,425.2 429.3,426.3" fill="none" stroke="#000" stroke-width="1.2" stroke-linejoin="round" stroke-linecap="round" />
<polyline points="411.6,387.1 413.4,386.9 415.2,387.2 417.2,387.9 419.2,389.1 421.1,390.7 423.1,392.7 424.9,395.0 426.6,397.5 428.1,400.3 429.4,403.3 430.4,406.3 431.2,409.4 431.7,412.4 431.9,415.3 431.9,418.0 431.5,420.5 430.8,422.7 429.9,424.6 428.7,426.0 427.3,427.0" fill="none" stroke="#000" stroke-width="0.95" stroke-linejoin="round" stroke-linecap="round" />
<polyline points="407.7,388.5 409.4,388.4 411.3,388.7 413.3,389.4 415.3,390.6 417.2,392.2 419.2,394.1 421.0,396.4 422.7,399.0 424.2,401.8 425.5,404.8 426.5,407.8 427.3,410.9 427.8,413.9 428.1,416.8 428.0,419.5 427.6,422.0 426.9,424.2 426.0,426.0 424.8,427.5 423.4,428.5" fill="none" stroke="#000" stroke-width="1.2" stroke-linejoin="round" stroke-linecap="round" />
<polyline points="405.7,389.3 407.4,389.1 409.3,389.4 411.3,390.2 413.3,391.3 415.2,392.9 417.2,394.9 419.0,397.2 420.7,399.8 422.2,402.6 423.5,405.5 424.5,408.6 425.3,411.6 425.8,414.7 426.1,417.6 426.0,420.3 425.6,422.8 424.9,425.0 424.0,426.8 422.8,428.3 421.4,429.3" fill="none" stroke="#000" stroke-width="0.95" stroke-linejoin="round" stroke-linecap="round" />
<polyline points="401.8,390.8 403.5,390.6 405.4,390.9 407.4,391.6 409.4,392.8 411.3,394.4 413.3,396.4 415.1,398.7 416.8,401.3 418.3,404.0 419.6,407.0 420.6,410.0 421.4,413.1 421.9,416.1 422.2,419.0 422.1,421.8 421.7,424.3 421.0,426.5 420.1,428.3 418.9,429.8 417.5,430.8" fill="none" stroke="#000" stroke-width="1.2" stroke-linejoin="round" stroke-linecap="round" />
<polyline points="399.8,391.5 401.5,391.4 403.4,391.7 405.4,392.4 407.4,393.6 409.3,395.2 411.3,397.1 413.1,399.4 414.8,402.0 416.3,404.8 417.6,407.8 418.6,410.8 419.4,413.9 419.9,416.9 420.2,419.8 420.1,422.5 419.7,425.0 419.0,427.2 418.1,429.1 416.9,430.5 415.5,431.6" fill="none" stroke="#000" stroke-width="0.95" stroke-linejoin="round" stroke-linecap="round" />
<polyline points="395.9,393.0 397.6,392.8 399.5,393.1 401.5,393.9 403.5,395.1 405.4,396.6 407.4,398.6 409.2,400.9 410.9,403.5 412.4,406.3 413.7,409.2 414.7,412.3 415.5,415.4 416.1,418.4 416.3,421.3 416.2,424.0 415.8,426.5 415.2,428.7 414.2,430.6 413.0,432.0 411.6,433.1" fill="none" stroke="#000" stroke-width="1.2" stroke-linejoin="round" stroke-linecap="round" />
<polyline points="393.9,393.8 395.6,393.6 397.5,393.9 399.5,394.6 401.5,395.8 403.4,397.4 405.4,399.4 407.2,401.7 408.9,404.2 410.4,407.0 411.7,410.0 412.8,413.1 413.5,416.1 414.1,419.2 414.3,422.1 414.2,424.8 413.8,427.3 413.2,429.5 412.2,431.3 411.0,432.8 409.6,433.8" fill="none" stroke="#000" stroke-width="0.95" stroke-linejoin="round" stroke-linecap="round" />
<polyline points="390.0,395.2 391.7,395.1 393.6,395.4 395.6,396.1 397.6,397.3 399.5,398.9 401.5,400.8 403.3,403.1 405.0,405.7 406.5,408.5 407.8,411.5 408.9,414.5 409.7,417.6 410.2,420.6 410.4,423.6 410.3,426.3 409.9,428.8 409.3,431.0 408.3,432.8 407.1,434.3 405.7,435.3" fill="none" stroke="#000" stroke-width="1.2" stroke-linejoin="round" stroke-linecap="round" />
<polyline points="388.0,396.0 389.7,395.8 391.6,396.1 393.6,396.9 395.6,398.0 397.5,399.6 399.5,401.6 401.3,403.9 403.0,406.5 404.5,409.3 405.8,412.2 406.9,415.3 407.7,418.4 408.2,421.4 408.4,424.3 408.3,427.0 407.9,429.5 407.3,431.7 406.3,433.6 405.1,435.0 403.7,436.1" fill="none" stroke="#000" stroke-width="0.95" stroke-linejoin="round" stroke-linecap="round" />
<polyline points="384.1,397.5 385.8,397.3 387.7,397.6 389.7,398.3 391.7,399.5 393.6,401.1 395.6,403.1 397.4,405.4 399.1,408.0 400.6,410.8 401.9,413.7 403.0,416.8 403.8,419.9 404.3,422.9 404.5,425.8 404.4,428.5 404.0,431.0 403.4,433.2 402.4,435.1 401.2,436.5 399.8,437.6" fill="none" stroke="#000" stroke-width="1.2" stroke-linejoin="round" stroke-linecap="round" />
<polyline points="382.1,398.2 383.8,398.0 385.7,398.3 387.7,399.1 389.7,400.3 391.6,401.9 393.6,403.8 395.4,406.1 397.1,408.7 398.6,411.5 399.9,414.5 401.0,417.5 401.8,420.6 402.3,423.7 402.5,426.6 402.4,429.3 402.0,431.8 401.4,434.0 400.4,435.8 399.2,437.3 397.8,438.3" fill="none" stroke="#000" stroke-width="0.95" stroke-linejoin="round" stroke-linecap="round" />
<polyline points="378.2,399.7 379.9,399.5 381.8,399.8 383.8,400.6 385.8,401.7 387.7,403.3 389.7,405.3 391.5,407.6 393.2,410.2 394.7,413.0 396.0,416.0 397.1,419.0 397.9,422.1 398.4,425.1 398.6,428.1 398.5,430.8 398.1,433.3 397.5,435.5 396.5,437.3 395.3,438.8 393.9,439.8" fill="none" stroke="#000" stroke-width="1.2" stroke-linejoin="round" stroke-linecap="round" />
<polyline points="376.2,400.4 377.9,400.3 379.8,400.6 381.8,401.3 383.8,402.5 385.8,404.1 387.7,406.1 389.5,408.4 391.2,411.0 392.7,413.8 394.0,416.7 395.1,419.8 395.9,422.9 396.4,425.9 396.6,428.8 396.5,431.6 396.1,434.1 395.5,436.3 394.5,438.1 393.3,439.6 391.9,440.6" fill="none" stroke="#000" stroke-width="0.95" stroke-linejoin="round" stroke-linecap="round" />
<polyline points="372.3,401.9 374.0,401.8 375.9,402.0 377.9,402.8 379.9,404.0 381.9,405.6 383.8,407.6 385.6,409.9 387.3,412.4 388.8,415.3 390.1,418.2 391.2,421.3 392.0,424.4 392.5,427.4 392.7,430.3 392.6,433.0 392.3,435.5 391.6,437.7 390.6,439.6 389.5,441.1 388.0,442.1" fill="none" stroke="#000" stroke-width="1.2" stroke-linejoin="round" stroke-linecap="round" />
<polyline points="370.3,402.7 372.0,402.5 373.9,402.8 375.9,403.6 377.9,404.7 379.9,406.3 381.8,408.3 383.6,410.6 385.3,413.2 386.8,416.0 388.1,419.0 389.2,422.0 390.0,425.1 390.5,428.2 390.7,431.1 390.6,433.8 390.3,436.3 389.6,438.5 388.7,440.4 387.5,441.8 386.0,442.9" fill="none" stroke="#000" stroke-width="0.95" stroke-linejoin="round" stroke-linecap="round" />
<polyline points="366.4,404.2 368.1,404.0 370.0,404.3 372.0,405.0 374.0,406.2 376.0,407.8 377.9,409.8 379.7,412.1 381.4,414.7 382.9,417.5 384.2,420.5 385.3,423.5 386.1,426.6 386.6,429.6 386.8,432.6 386.7,435.3 386.4,437.8 385.7,440.0 384.8,441.9 383.6,443.3 382.1,444.4" fill="none" stroke="#000" stroke-width="1.2" stroke-linejoin="round" stroke-linecap="round" />
<polyline points="364.4,404.9 366.1,404.7 368.0,405.0 370.0,405.8 372.0,407.0 374.0,408.6 375.9,410.5 377.7,412.9 379.4,415.4 380.9,418.3 382.2,421.2 383.3,424.3 384.1,427.4 384.6,430.4 384.8,433.3 384.7,436.1 384.4,438.6 383.7,440.8 382.8,442.6 381.6,444.1 380.1,445.1" fill="none" stroke="#000" stroke-width="0.95" stroke-linejoin="round" stroke-linecap="round" />
<polyline points="360.5,406.4 362.2,406.2 364.1,406.5 366.1,407.3 368.1,408.4 370.1,410.0 372.0,412.0 373.8,414.3 375.5,416.9 377.0,419.7 378.3,422.7 379.4,425.8 380.2,428.8 380.7,431.9 380.9,434.8 380.9,437.6 380.5,440.1 379.8,442.3 378.9,444.1 377.7,445.6 376.2,446.6" fill="none" stroke="#000" stroke-width="1.2" stroke-linejoin="round" stroke-linecap="round" />
<polyline points="358.5,407.1 360.2,407.0 362.1,407.3 364.1,408.0 366.1,409.2 368.1,410.8 370.0,412.8 371.8,415.1 373.5,417.7 375.0,420.5 376.3,423.5 377.4,426.5 378.2,429.6 378.7,432.6 378.9,435.6 378.9,438.3 378.5,440.8 377.8,443.0 376.9,444.9 375.7,446.3 374.2,447.4" fill="none" stroke="#000" stroke-width="0.95" stroke-linejoin="round" stroke-linecap="round" />
<polyline points="354.5,408.6 356.3,408.4 358.2,408.7 360.2,409.5 362.2,410.7 364.2,412.3 366.1,414.3 367.9,416.6 369.6,419.2 371.1,422.0 372.4,424.9 373.5,428.0 374.3,431.1 374.8,434.1 375.0,437.1 375.0,439.8 374.6,442.3 373.9,444.5 373.0,446.4 371.8,447.8 370.4,448.9" fill="none" stroke="#000" stroke-width="1.2" stroke-linejoin="round" stroke-linecap="round" />
<polyline points="352.5,409.4 354.3,409.2 356.2,409.5 358.2,410.2 360.2,411.4 362.2,413.0 364.1,415.0 365.9,417.3 367.6,419.9 369.1,422.7 370.5,425.7 371.5,428.8 372.3,431.9 372.8,434.9 373.0,437.8 373.0,440.6 372.6,443.1 371.9,445.3 371.0,447.1 369.8,448.6 368.4,449.7" fill="none" stroke="#000" stroke-width="0.95" stroke-linejoin="round" stroke-linecap="round" />
<polyline points="348.6,410.8 350.4,410.7 352.3,411.0 354.3,411.7 356.3,412.9 358.3,414.5 360.2,416.5 362.0,418.8 363.7,421.4 365.2,424.2 366.6,427.2 367.6,430.3 368.4,433.3 368.9,436.4 369.2,439.3 369.1,442.1 368.7,444.6 368.0,446.8 367.1,448.6 365.9,450.1 364.5,451.1" fill="none" stroke="#000" stroke-width="1.2" stroke-linejoin="round" stroke-linecap="round" />
<polyline points="346.6,411.6 348.4,411.4 350.3,411.7 352.3,412.5 354.3,413.7 356.3,415.3 358.2,417.2 360.0,419.6 361.7,422.2 363.3,425.0 364.6,427.9 365.6,431.0 366.4,434.1 366.9,437.1 367.2,440.1 367.1,442.8 366.7,445.3 366.0,447.5 365.1,449.4 363.9,450.9 362.5,451.9" fill="none" stroke="#000" stroke-width="0.95" stroke-linejoin="round" stroke-linecap="round" />
<polyline points="342.7,413.1 344.5,412.9 346.4,413.2 348.4,413.9 350.4,415.1 352.4,416.7 354.3,418.7 356.1,421.0 357.8,423.6 359.4,426.5 360.7,429.4 361.7,432.5 362.5,435.6 363.0,438.6 363.3,441.6 363.2,444.3 362.8,446.8 362.1,449.0 361.2,450.9 360.0,452.4 358.6,453.4" fill="none" stroke="#000" stroke-width="1.2" stroke-linejoin="round" stroke-linecap="round" />
<polyline points="340.7,413.8 342.5,413.7 344.4,414.0 346.4,414.7 348.4,415.9 350.4,417.5 352.3,419.5 354.1,421.8 355.8,424.4 357.4,427.2 358.7,430.2 359.7,433.3 360.5,436.4 361.0,439.4 361.3,442.3 361.2,445.1 360.8,447.6 360.1,449.8 359.2,451.7 358.0,453.1 356.6,454.2" fill="none" stroke="#000" stroke-width="0.95" stroke-linejoin="round" stroke-linecap="round" />
<polyline points="336.8,415.3 338.6,415.1 340.5,415.4 342.5,416.2 344.5,417.4 346.5,419.0 348.4,421.0 350.2,423.3 351.9,425.9 353.5,428.7 354.8,431.7 355.8,434.7 356.6,437.8 357.2,440.9 357.4,443.8 357.3,446.6 356.9,449.1 356.2,451.3 355.3,453.2 354.1,454.6 352.7,455.7" fill="none" stroke="#000" stroke-width="1.2" stroke-linejoin="round" stroke-linecap="round" />
<polyline points="334.8,416.1 336.6,415.9 338.5,416.2 340.5,416.9 342.5,418.1 344.5,419.7 346.4,421.7 348.2,424.0 349.9,426.6 351.5,429.5 352.8,432.4 353.8,435.5 354.6,438.6 355.2,441.6 355.4,444.6 355.3,447.3 354.9,449.8 354.2,452.1 353.3,453.9 352.1,455.4 350.7,456.4" fill="none" stroke="#000" stroke-width="0.95" stroke-linejoin="round" stroke-linecap="round" />
<polyline points="330.9,417.5 332.7,417.4 334.6,417.7 336.6,418.4 338.6,419.6 340.6,421.2 342.5,423.2 344.3,425.5 346.0,428.1 347.6,430.9 348.9,433.9 349.9,437.0 350.7,440.1 351.3,443.1 351.5,446.1 351.4,448.8 351.0,451.3 350.4,453.5 349.4,455.4 348.2,456.9 346.8,457.9" fill="none" stroke="#000" stroke-width="1.2" stroke-linejoin="round" stroke-linecap="round" />
<polyline points="328.9,418.3 330.7,418.1 332.6,418.4 334.6,419.2 336.6,420.4 338.6,422.0 340.5,424.0 342.3,426.3 344.0,428.9 345.6,431.7 346.9,434.7 347.9,437.7 348.8,440.8 349.3,443.9 349.5,446.8 349.4,449.6 349.0,452.1 348.4,454.3 347.4,456.2 346.2,457.6 344.8,458.7" fill="none" stroke="#000" stroke-width="0.95" stroke-linejoin="round" stroke-linecap="round" />
<polyline points="325.0,419.8 326.8,419.6 328.7,419.9 330.7,420.6 332.7,421.8 334.7,423.4 336.6,425.4 338.5,427.8 340.2,430.4 341.7,433.2 343.0,436.2 344.1,439.2 344.9,442.3 345.4,445.4 345.6,448.3 345.5,451.1 345.1,453.6 344.5,455.8 343.5,457.7 342.3,459.1 340.9,460.2" fill="none" stroke="#000" stroke-width="1.2" stroke-linejoin="round" stroke-linecap="round" />
<polyline points="323.0,420.5 324.8,420.4 326.7,420.6 328.7,421.4 330.7,422.6 332.7,424.2 334.6,426.2 336.5,428.5 338.2,431.1 339.7,433.9 341.0,436.9 342.1,440.0 342.9,443.1 343.4,446.1 343.6,449.1 343.5,451.8 343.1,454.4 342.5,456.6 341.5,458.4 340.3,459.9 338.9,461.0" fill="none" stroke="#000" stroke-width="0.95" stroke-linejoin="round" stroke-linecap="round" />
<polyline points="319.1,422.0 320.9,421.8 322.8,422.1 324.8,422.9 326.8,424.1 328.8,425.7 330.7,427.7 332.6,430.0 334.3,432.6 335.8,435.4 337.1,438.4 338.2,441.5 339.0,444.6 339.5,447.6 339.7,450.6 339.6,453.3 339.2,455.8 338.6,458.1 337.6,459.9 336.4,461.4 335.0,462.4" fill="none" stroke="#000" stroke-width="1.2" stroke-linejoin="round" stroke-linecap="round" />
<polyline points="317.1,422.8 318.9,422.6 320.8,422.9 322.8,423.6 324.8,424.8 326.8,426.4 328.7,428.4 330.6,430.7 332.3,433.3 333.8,436.2 335.1,439.2 336.2,442.2 337.0,445.3 337.5,448.4 337.7,451.3 337.6,454.1 337.2,456.6 336.6,458.8 335.6,460.7 334.4,462.2 333.0,463.2" fill="none" stroke="#000" stroke-width="0.95" stroke-linejoin="round" stroke-linecap="round" />
<polyline points="313.2,424.2 315.0,424.1 316.9,424.4 318.9,425.1 320.9,426.3 322.9,427.9 324.8,429.9 326.7,432.2 328.4,434.8 329.9,437.7 331.2,440.6 332.3,443.7 333.1,446.8 333.6,449.9 333.8,452.8 333.7,455.6 333.4,458.1 332.7,460.3 331.7,462.2 330.5,463.7 329.1,464.7" fill="none" stroke="#000" stroke-width="1.2" stroke-linejoin="round" stroke-linecap="round" />
<polyline points="311.2,425.0 313.0,424.8 314.9,425.1 316.9,425.9 318.9,427.1 320.9,428.7 322.8,430.7 324.7,433.0 326.4,435.6 327.9,438.4 329.2,441.4 330.3,444.5 331.1,447.6 331.6,450.6 331.8,453.6 331.7,456.4 331.4,458.9 330.7,461.1 329.7,463.0 328.5,464.4 327.1,465.5" fill="none" stroke="#000" stroke-width="0.95" stroke-linejoin="round" stroke-linecap="round" />
<polyline points="307.3,426.5 309.1,426.3 311.0,426.6 313.0,427.3 315.0,428.5 317.0,430.1 318.9,432.1 320.8,434.5 322.5,437.1 324.0,439.9 325.3,442.9 326.4,446.0 327.2,449.1 327.7,452.1 327.9,455.1 327.8,457.8 327.5,460.4 326.8,462.6 325.8,464.4 324.6,465.9 323.2,467.0" fill="none" stroke="#000" stroke-width="1.2" stroke-linejoin="round" stroke-linecap="round" />
<polyline points="305.3,427.2 307.1,427.0 309.0,427.3 311.0,428.1 313.0,429.3 315.0,430.9 316.9,432.9 318.8,435.2 320.5,437.8 322.0,440.7 323.3,443.6 324.4,446.7 325.2,449.8 325.7,452.9 325.9,455.8 325.8,458.6 325.5,461.1 324.8,463.3 323.8,465.2 322.6,466.7 321.2,467.7" fill="none" stroke="#000" stroke-width="0.95" stroke-linejoin="round" stroke-linecap="round" />
<polyline points="301.4,428.7 303.2,428.5 305.1,428.8 307.1,429.6 309.1,430.8 311.1,432.4 313.0,434.4 314.9,436.7 316.6,439.3 318.1,442.1 319.4,445.1 320.5,448.2 321.3,451.3 321.8,454.4 322.0,457.3 322.0,460.1 321.6,462.6 320.9,464.8 319.9,466.7 318.7,468.2 317.3,469.2" fill="none" stroke="#000" stroke-width="1.2" stroke-linejoin="round" stroke-linecap="round" />
<polyline points="299.4,429.4 301.2,429.3 303.1,429.6 305.1,430.3 307.1,431.5 309.1,433.1 311.0,435.1 312.9,437.5 314.6,440.1 316.1,442.9 317.4,445.9 318.5,449.0 319.3,452.1 319.8,455.1 320.0,458.1 320.0,460.9 319.6,463.4 318.9,465.6 318.0,467.5 316.7,468.9 315.3,470.0" fill="none" stroke="#000" stroke-width="0.95" stroke-linejoin="round" stroke-linecap="round" />
<polyline points="295.5,430.9 297.3,430.7 299.2,431.0 301.2,431.8 303.2,433.0 305.2,434.6 307.1,436.6 309.0,438.9 310.7,441.5 312.2,444.4 313.5,447.4 314.6,450.5 315.4,453.6 315.9,456.6 316.1,459.6 316.1,462.3 315.7,464.9 315.0,467.1 314.1,469.0 312.9,470.4 311.4,471.5" fill="none" stroke="#000" stroke-width="1.2" stroke-linejoin="round" stroke-linecap="round" />
<polyline points="293.5,431.7 295.3,431.5 297.2,431.8 299.2,432.6 301.2,433.8 303.2,435.4 305.1,437.4 307.0,439.7 308.7,442.3 310.2,445.1 311.5,448.1 312.6,451.2 313.4,454.3 313.9,457.4 314.1,460.3 314.1,463.1 313.7,465.6 313.0,467.9 312.1,469.7 310.9,471.2 309.4,472.3" fill="none" stroke="#000" stroke-width="0.95" stroke-linejoin="round" stroke-linecap="round" />
<polyline points="289.6,433.2 291.4,433.0 293.3,433.3 295.3,434.0 297.3,435.2 299.3,436.8 301.2,438.8 303.1,441.2 304.8,443.8 306.3,446.6 307.6,449.6 308.7,452.7 309.5,455.8 310.0,458.9 310.3,461.8 310.2,464.6 309.8,467.1 309.1,469.3 308.2,471.2 307.0,472.7 305.5,473.8" fill="none" stroke="#000" stroke-width="1.2" stroke-linejoin="round" stroke-linecap="round" />
<polyline points="287.6,433.9 289.4,433.7 291.3,434.0 293.3,434.8 295.3,436.0 297.3,437.6 299.2,439.6 301.1,441.9 302.8,444.5 304.3,447.4 305.6,450.4 306.7,453.5 307.5,456.6 308.0,459.6 308.3,462.6 308.2,465.4 307.8,467.9 307.1,470.1 306.2,472.0 305.0,473.5 303.5,474.5" fill="none" stroke="#000" stroke-width="0.95" stroke-linejoin="round" stroke-linecap="round" />
<polyline points="283.7,435.4 285.5,435.2 287.4,435.5 289.4,436.3 291.4,437.5 293.4,439.1 295.3,441.1 297.2,443.4 298.9,446.0 300.4,448.9 301.7,451.9 302.8,454.9 303.6,458.1 304.1,461.1 304.4,464.1 304.3,466.9 303.9,469.4 303.2,471.6 302.3,473.5 301.1,475.0 299.6,476.0" fill="none" stroke="#000" stroke-width="1.2" stroke-linejoin="round" stroke-linecap="round" />
<polyline points="281.7,436.1 283.5,436.0 285.4,436.3 287.4,437.0 289.4,438.2 291.4,439.8 293.3,441.8 295.2,444.2 296.9,446.8 298.4,449.6 299.7,452.6 300.8,455.7 301.6,458.8 302.1,461.9 302.4,464.8 302.3,467.6 301.9,470.1 301.2,472.4 300.3,474.2 299.1,475.7 297.6,476.8" fill="none" stroke="#000" stroke-width="0.95" stroke-linejoin="round" stroke-linecap="round" />
<polyline points="277.8,437.6 279.6,437.4 281.5,437.7 283.5,438.5 285.5,439.7 287.5,441.3 289.4,443.3 291.3,445.6 293.0,448.3 294.5,451.1 295.9,454.1 296.9,457.2 297.7,460.3 298.3,463.4 298.5,466.3 298.4,469.1 298.0,471.6 297.3,473.9 296.4,475.7 295.2,477.2 293.7,478.3" fill="none" stroke="#000" stroke-width="1.2" stroke-linejoin="round" stroke-linecap="round" />
<polyline points="275.8,438.4 277.6,438.2 279.5,438.5 281.5,439.2 283.5,440.4 285.5,442.1 287.4,444.1 289.3,446.4 291.0,449.0 292.5,451.9 293.9,454.9 294.9,458.0 295.7,461.1 296.3,464.1 296.5,467.1 296.4,469.9 296.0,472.4 295.3,474.6 294.4,476.5 293.2,478.0 291.7,479.0" fill="none" stroke="#000" stroke-width="0.95" stroke-linejoin="round" stroke-linecap="round" />
<polyline points="271.9,439.8 273.7,439.7 275.6,440.0 277.6,440.7 279.6,441.9 281.6,443.5 283.5,445.5 285.4,447.9 287.1,450.5 288.6,453.3 290.0,456.3 291.0,459.4 291.8,462.6 292.4,465.6 292.6,468.6 292.5,471.4 292.1,473.9 291.4,476.1 290.5,478.0 289.3,479.5 287.8,480.5" fill="none" stroke="#000" stroke-width="1.2" stroke-linejoin="round" stroke-linecap="round" />
<polyline points="269.9,440.6 271.7,440.4 273.6,440.7 275.5,441.5 277.6,442.7 279.6,444.3 281.5,446.3 283.4,448.6 285.1,451.3 286.6,454.1 288.0,457.1 289.0,460.2 289.8,463.3 290.4,466.4 290.6,469.4 290.5,472.1 290.1,474.7 289.4,476.9 288.5,478.8 287.3,480.2 285.8,481.3" fill="none" stroke="#000" stroke-width="0.95" stroke-linejoin="round" stroke-linecap="round" />
<polyline points="266.0,442.1 267.8,441.9 269.7,442.2 271.6,443.0 273.7,444.2 275.7,445.8 277.6,447.8 279.5,450.1 281.2,452.7 282.7,455.6 284.1,458.6 285.1,461.7 286.0,464.8 286.5,467.9 286.7,470.8 286.6,473.6 286.2,476.1 285.6,478.4 284.6,480.3 283.4,481.7 282.0,482.8" fill="none" stroke="#000" stroke-width="1.2" stroke-linejoin="round" stroke-linecap="round" />
<polyline points="264.0,442.8 265.8,442.7 267.7,443.0 269.6,443.7 271.7,444.9 273.7,446.5 275.6,448.5 277.5,450.9 279.2,453.5 280.8,456.3 282.1,459.3 283.1,462.4 284.0,465.6 284.5,468.6 284.7,471.6 284.6,474.4 284.2,476.9 283.6,479.1 282.6,481.0 281.4,482.5 280.0,483.6" fill="none" stroke="#000" stroke-width="0.95" stroke-linejoin="round" stroke-linecap="round" />
<polyline points="260.1,444.3 261.8,444.1 263.8,444.4 265.7,445.2 267.8,446.4 269.8,448.0 271.7,450.0 273.6,452.4 275.3,455.0 276.9,457.8 278.2,460.8 279.3,463.9 280.1,467.1 280.6,470.1 280.8,473.1 280.7,475.9 280.3,478.4 279.7,480.6 278.7,482.5 277.5,484.0 276.1,485.1" fill="none" stroke="#000" stroke-width="1.2" stroke-linejoin="round" stroke-linecap="round" />
<polyline points="258.1,445.1 259.8,444.9 261.8,445.2 263.7,445.9 265.8,447.1 267.8,448.8 269.7,450.8 271.6,453.1 273.3,455.7 274.9,458.6 276.2,461.6 277.3,464.7 278.1,467.8 278.6,470.9 278.8,473.9 278.7,476.6 278.3,479.2 277.7,481.4 276.7,483.3 275.5,484.8 274.1,485.8" fill="none" stroke="#000" stroke-width="0.95" stroke-linejoin="round" stroke-linecap="round" />
<polyline points="254.2,446.5 255.9,446.4 257.9,446.7 259.8,447.4 261.9,448.6 263.9,450.2 265.8,452.2 267.7,454.6 269.4,457.2 271.0,460.1 272.3,463.1 273.4,466.2 274.2,469.3 274.7,472.4 274.9,475.3 274.8,478.1 274.4,480.7 273.8,482.9 272.8,484.8 271.6,486.3 270.2,487.3" fill="none" stroke="#000" stroke-width="1.2" stroke-linejoin="round" stroke-linecap="round" />
<polyline points="252.2,447.3 253.9,447.1 255.9,447.4 257.8,448.2 259.9,449.4 261.9,451.0 263.8,453.0 265.7,455.3 267.4,458.0 269.0,460.8 270.3,463.8 271.4,466.9 272.2,470.1 272.7,473.1 272.9,476.1 272.8,478.9 272.5,481.4 271.8,483.7 270.8,485.5 269.6,487.0 268.2,488.1" fill="none" stroke="#000" stroke-width="0.95" stroke-linejoin="round" stroke-linecap="round" />
<polyline points="248.2,448.8 250.0,448.6 252.0,448.9 253.9,449.6 256.0,450.9 258.0,452.5 260.0,454.5 261.8,456.8 263.5,459.5 265.1,462.3 266.4,465.3 267.5,468.4 268.3,471.5 268.8,474.6 269.0,477.6 268.9,480.4 268.6,482.9 267.9,485.2 266.9,487.0 265.7,488.5 264.3,489.6" fill="none" stroke="#000" stroke-width="1.2" stroke-linejoin="round" stroke-linecap="round" />
<polyline points="246.2,449.5 248.0,449.3 250.0,449.6 251.9,450.4 254.0,451.6 256.0,453.2 258.0,455.2 259.8,457.6 261.5,460.2 263.1,463.1 264.4,466.1 265.5,469.2 266.3,472.3 266.8,475.4 267.0,478.4 266.9,481.1 266.6,483.7 265.9,485.9 264.9,487.8 263.7,489.3 262.3,490.3" fill="none" stroke="#000" stroke-width="0.95" stroke-linejoin="round" stroke-linecap="round" />
<polyline points="242.3,451.0 244.1,450.8 246.1,451.1 248.0,451.9 250.1,453.1 252.1,454.7 254.1,456.7 255.9,459.1 257.6,461.7 259.2,464.5 260.5,467.6 261.6,470.7 262.4,473.8 262.9,476.9 263.1,479.8 263.1,482.6 262.7,485.2 262.0,487.4 261.0,489.3 259.8,490.8 258.4,491.8" fill="none" stroke="#000" stroke-width="1.2" stroke-linejoin="round" stroke-linecap="round" />
<polyline points="240.3,451.8 242.1,451.6 244.0,451.9 246.0,452.6 248.1,453.8 250.1,455.5 252.1,457.5 253.9,459.8 255.6,462.4 257.2,465.3 258.5,468.3 259.6,471.4 260.4,474.6 260.9,477.6 261.1,480.6 261.1,483.4 260.7,485.9 260.0,488.2 259.0,490.1 257.8,491.5 256.4,492.6" fill="none" stroke="#000" stroke-width="0.95" stroke-linejoin="round" stroke-linecap="round" />
<polyline points="236.4,453.2 238.2,453.1 240.1,453.3 242.1,454.1 244.2,455.3 246.2,456.9 248.2,459.0 250.0,461.3 251.7,463.9 253.3,466.8 254.6,469.8 255.7,472.9 256.5,476.0 257.0,479.1 257.2,482.1 257.2,484.9 256.8,487.4 256.1,489.7 255.1,491.6 253.9,493.0 252.5,494.1" fill="none" stroke="#000" stroke-width="1.2" stroke-linejoin="round" stroke-linecap="round" />
<polyline points="234.4,454.0 236.2,453.8 238.1,454.1 240.1,454.9 242.2,456.1 244.2,457.7 246.2,459.7 248.0,462.1 249.7,464.7 251.3,467.5 252.6,470.6 253.7,473.7 254.5,476.8 255.0,479.9 255.2,482.9 255.2,485.7 254.8,488.2 254.1,490.4 253.1,492.3 251.9,493.8 250.5,494.9" fill="none" stroke="#000" stroke-width="0.95" stroke-linejoin="round" stroke-linecap="round" />
<polyline points="230.5,455.5 232.3,455.3 234.2,455.6 236.2,456.3 238.3,457.5 240.3,459.2 242.3,461.2 244.1,463.5 245.8,466.2 247.4,469.0 248.7,472.0 249.8,475.2 250.6,478.3 251.1,481.4 251.4,484.4 251.3,487.1 250.9,489.7 250.2,491.9 249.3,493.8 248.0,495.3 246.6,496.4" fill="none" stroke="#000" stroke-width="1.2" stroke-linejoin="round" stroke-linecap="round" />
<polyline points="228.5,456.2 230.3,456.0 232.2,456.3 234.2,457.1 236.3,458.3 238.3,459.9 240.3,461.9 242.1,464.3 243.9,466.9 245.4,469.8 246.7,472.8 247.8,475.9 248.6,479.1 249.1,482.1 249.4,485.1 249.3,487.9 248.9,490.4 248.2,492.7 247.3,494.6 246.0,496.1 244.6,497.1" fill="none" stroke="#000" stroke-width="0.95" stroke-linejoin="round" stroke-linecap="round" />
<polyline points="224.6,457.7 226.4,457.5 228.3,457.8 230.3,458.6 232.4,459.8 234.4,461.4 236.4,463.4 238.2,465.8 240.0,468.4 241.5,471.3 242.8,474.3 243.9,477.4 244.7,480.5 245.2,483.6 245.5,486.6 245.4,489.4 245.0,491.9 244.3,494.2 243.4,496.1 242.1,497.6 240.7,498.6" fill="none" stroke="#000" stroke-width="1.2" stroke-linejoin="round" stroke-linecap="round" />
<polyline points="222.6,458.4 224.4,458.3 226.3,458.6 228.3,459.3 230.4,460.5 232.4,462.2 234.4,464.2 236.2,466.5 238.0,469.2 239.5,472.0 240.8,475.0 241.9,478.2 242.7,481.3 243.2,484.4 243.5,487.4 243.4,490.2 243.0,492.7 242.3,494.9 241.4,496.8 240.1,498.3 238.7,499.4" fill="none" stroke="#000" stroke-width="0.95" stroke-linejoin="round" stroke-linecap="round" />
<polyline points="218.7,459.9 220.5,459.7 222.4,460.0 224.4,460.8 226.5,462.0 228.5,463.6 230.5,465.7 232.3,468.0 234.1,470.6 235.6,473.5 236.9,476.5 238.0,479.6 238.8,482.8 239.4,485.9 239.6,488.9 239.5,491.6 239.1,494.2 238.4,496.4 237.5,498.3 236.3,499.8 234.8,500.9" fill="none" stroke="#000" stroke-width="1.2" stroke-linejoin="round" stroke-linecap="round" />
<polyline points="216.7,460.7 218.5,460.5 220.4,460.8 222.4,461.6 224.5,462.8 226.5,464.4 228.5,466.4 230.3,468.8 232.1,471.4 233.6,474.3 234.9,477.3 236.0,480.4 236.8,483.5 237.4,486.6 237.6,489.6 237.5,492.4 237.1,495.0 236.4,497.2 235.5,499.1 234.3,500.6 232.8,501.6" fill="none" stroke="#000" stroke-width="0.95" stroke-linejoin="round" stroke-linecap="round" />
<polyline points="212.8,462.1 214.6,462.0 216.5,462.3 218.5,463.0 220.6,464.2 222.6,465.9 224.6,467.9 226.4,470.2 228.2,472.9 229.7,475.7 231.0,478.8 232.1,481.9 232.9,485.0 233.5,488.1 233.7,491.1 233.6,493.9 233.2,496.5 232.5,498.7 231.6,500.6 230.4,502.1 228.9,503.1" fill="none" stroke="#000" stroke-width="1.2" stroke-linejoin="round" stroke-linecap="round" />
<polyline points="210.8,462.9 212.6,462.7 214.5,463.0 216.5,463.8 218.6,465.0 220.6,466.6 222.6,468.6 224.4,471.0 226.2,473.6 227.7,476.5 229.0,479.5 230.1,482.7 230.9,485.8 231.5,488.9 231.7,491.9 231.6,494.7 231.2,497.2 230.5,499.5 229.6,501.4 228.4,502.8 226.9,503.9" fill="none" stroke="#000" stroke-width="0.95" stroke-linejoin="round" stroke-linecap="round" />
<polyline points="206.9,464.4 208.7,464.2 210.6,464.5 212.6,465.3 214.7,466.5 216.7,468.1 218.7,470.1 220.5,472.5 222.3,475.1 223.8,478.0 225.1,481.0 226.2,484.1 227.0,487.3 227.6,490.4 227.8,493.4 227.7,496.2 227.3,498.7 226.6,501.0 225.7,502.8 224.5,504.3 223.0,505.4" fill="none" stroke="#000" stroke-width="1.2" stroke-linejoin="round" stroke-linecap="round" />
<polyline points="204.9,465.1 206.7,465.0 208.6,465.3 210.6,466.0 212.7,467.2 214.7,468.9 216.7,470.9 218.5,473.2 220.3,475.9 221.8,478.7 223.2,481.8 224.2,484.9 225.1,488.0 225.6,491.1 225.8,494.1 225.7,496.9 225.3,499.5 224.6,501.7 223.7,503.6 222.5,505.1 221.0,506.2" fill="none" stroke="#000" stroke-width="0.95" stroke-linejoin="round" stroke-linecap="round" />
<polyline points="201.0,466.6 202.8,466.4 204.7,466.7 206.7,467.5 208.8,468.7 210.8,470.3 212.8,472.4 214.6,474.7 216.4,477.4 217.9,480.2 219.3,483.3 220.3,486.4 221.2,489.5 221.7,492.6 221.9,495.6 221.8,498.4 221.4,501.0 220.8,503.2 219.8,505.1 218.6,506.6 217.1,507.7" fill="none" stroke="#000" stroke-width="1.2" stroke-linejoin="round" stroke-linecap="round" />
<polyline points="199.0,467.4 200.8,467.2 202.7,467.5 204.7,468.3 206.8,469.5 208.8,471.1 210.8,473.1 212.7,475.5 214.4,478.1 215.9,481.0 217.3,484.0 218.3,487.1 219.2,490.3 219.7,493.4 219.9,496.4 219.8,499.2 219.4,501.7 218.8,504.0 217.8,505.9 216.6,507.4 215.1,508.4" fill="none" stroke="#000" stroke-width="0.95" stroke-linejoin="round" stroke-linecap="round" />
<polyline points="195.1,468.8 196.9,468.7 198.8,469.0 200.8,469.7 202.9,470.9 204.9,472.6 206.9,474.6 208.8,477.0 210.5,479.6 212.0,482.5 213.4,485.5 214.5,488.6 215.3,491.8 215.8,494.9 216.0,497.9 215.9,500.7 215.5,503.2 214.9,505.5 213.9,507.4 212.7,508.9 211.2,509.9" fill="none" stroke="#000" stroke-width="1.2" stroke-linejoin="round" stroke-linecap="round" />
<polyline points="193.1,469.6 194.9,469.4 196.8,469.7 198.8,470.5 200.9,471.7 202.9,473.3 204.9,475.4 206.8,477.7 208.5,480.4 210.0,483.2 211.4,486.3 212.5,489.4 213.3,492.5 213.8,495.6 214.0,498.6 213.9,501.4 213.5,504.0 212.9,506.2 211.9,508.1 210.7,509.6 209.2,510.7" fill="none" stroke="#000" stroke-width="0.95" stroke-linejoin="round" stroke-linecap="round" />
<polyline points="189.2,471.1 191.0,470.9 192.9,471.2 194.9,472.0 197.0,473.2 199.0,474.8 201.0,476.8 202.9,479.2 204.6,481.8 206.1,484.7 207.5,487.7 208.6,490.9 209.4,494.0 209.9,497.1 210.1,500.1 210.0,502.9 209.7,505.5 209.0,507.7 208.0,509.6 206.8,511.1 205.3,512.2" fill="none" stroke="#000" stroke-width="1.2" stroke-linejoin="round" stroke-linecap="round" />
<polyline points="187.2,471.8 189.0,471.7 190.9,472.0 192.9,472.7 195.0,473.9 197.0,475.6 199.0,477.6 200.9,479.9 202.6,482.6 204.1,485.5 205.5,488.5 206.6,491.6 207.4,494.8 207.9,497.9 208.1,500.9 208.0,503.7 207.7,506.2 207.0,508.5 206.0,510.4 204.8,511.9 203.3,513.0" fill="none" stroke="#000" stroke-width="0.95" stroke-linejoin="round" stroke-linecap="round" />
<polyline points="183.3,473.3 185.1,473.1 187.0,473.4 189.0,474.2 191.1,475.4 193.1,477.0 195.1,479.1 197.0,481.4 198.7,484.1 200.2,486.9 201.6,490.0 202.7,493.1 203.5,496.3 204.0,499.4 204.2,502.4 204.2,505.2 203.8,507.7 203.1,510.0 202.1,511.9 200.9,513.4 199.4,514.4" fill="none" stroke="#000" stroke-width="1.2" stroke-linejoin="round" stroke-linecap="round" />
<polyline points="181.3,474.1 183.1,473.9 185.0,474.2 187.0,474.9 189.1,476.2 191.1,477.8 193.1,479.8 195.0,482.2 196.7,484.8 198.3,487.7 199.6,490.7 200.7,493.9 201.5,497.0 202.0,500.1 202.2,503.1 202.2,505.9 201.8,508.5 201.1,510.8 200.1,512.6 198.9,514.1 197.4,515.2" fill="none" stroke="#000" stroke-width="0.95" stroke-linejoin="round" stroke-linecap="round" />
<polyline points="177.4,475.5 179.2,475.4 181.1,475.7 183.1,476.4 185.2,477.6 187.2,479.3 189.2,481.3 191.1,483.7 192.8,486.3 194.4,489.2 195.7,492.2 196.8,495.4 197.6,498.5 198.1,501.6 198.3,504.6 198.3,507.4 197.9,510.0 197.2,512.2 196.2,514.1 195.0,515.6 193.5,516.7" fill="none" stroke="#000" stroke-width="1.2" stroke-linejoin="round" stroke-linecap="round" />
<polyline points="175.4,476.3 177.2,476.1 179.1,476.4 181.1,477.2 183.2,478.4 185.2,480.0 187.2,482.1 189.1,484.4 190.8,487.1 192.4,489.9 193.7,493.0 194.8,496.1 195.6,499.3 196.1,502.4 196.3,505.4 196.3,508.2 195.9,510.8 195.2,513.0 194.2,514.9 193.0,516.4 191.6,517.5" fill="none" stroke="#000" stroke-width="0.95" stroke-linejoin="round" stroke-linecap="round" />
</g>
<polygon points="216.5,517.4 534.6,397.1 535.0,397.6 535.4,398.0 535.8,398.5 536.2,399.0 536.6,399.5 537.0,400.0 537.3,400.5 537.7,401.0 538.1,401.5 538.4,402.1 538.8,402.6 539.2,403.1 539.5,403.7 539.9,404.2 540.2,404.8 540.6,405.3 540.9,405.9 541.2,406.5 541.6,407.1 541.9,407.7 542.2,408.2 542.5,408.8 542.8,409.4 543.1,410.0 543.4,410.7 543.7,411.3 544.0,411.9 544.3,412.5 544.6,413.1 544.9,413.7 545.1,414.4 545.4,415.0 545.6,415.6 545.9,416.3 546.1,416.9 546.4,417.5 546.6,418.2 546.8,418.8 547.1,419.5 547.3,420.1 547.5,420.8 547.7,421.4 547.9,422.1 548.1,422.7 548.2,423.4 548.4,424.0 548.6,424.7 548.7,425.3 548.9,426.0 549.0,426.6 549.2,427.2 549.3,427.9 549.4,428.5 549.6,429.2 549.7,429.8 549.8,430.5 549.9,431.1 550.0,431.7 550.1,432.4 550.1,433.0 550.2,433.6 550.3,434.2 550.3,434.8 550.4,435.5 550.4,436.1 550.4,436.7 550.5,437.3 233.5,560.4" fill="url(#r1f)" stroke="#111" stroke-width="0.9" stroke-linejoin="round" />
<polygon points="55.3,420.0 85.5,408.1 225.6,499.2 196.9,510.3" fill="#ffffff" stroke="#000" stroke-width="1.15" stroke-linejoin="round" />
<polygon points="196.9,510.3 225.6,499.2 233.3,513.0 202.7,524.2" fill="#ffffff" stroke="#000" stroke-width="1.15" stroke-linejoin="round" />
<polygon points="202.7,524.2 233.3,513.0 232.0,617.8 200.7,629.4" fill="#beaac2" stroke="#000" stroke-width="1.15" stroke-linejoin="round" />
<polygon points="46.6,425.6 55.3,420.0 196.9,510.3 202.7,524.2 200.7,629.4 45.5,531.9" fill="#efefef" stroke="#000" stroke-width="1.15" stroke-linejoin="round" />
<ellipse cx="83.7" cy="423.7" rx="8.7" ry="4.6" fill="none" stroke="#1f8fd0" stroke-width="1.2" transform="rotate(-3 83.7 423.7)" stroke-dasharray="3 1.2"/>
<ellipse cx="83.7" cy="423.0" rx="8.2" ry="4.1" fill="url(#hole)" stroke="#0a0a0a" stroke-width="1.25" transform="rotate(-3 83.7 423.0)" />
<ellipse cx="196.9" cy="496.9" rx="8.7" ry="4.6" fill="none" stroke="#1f8fd0" stroke-width="1.2" transform="rotate(-3 196.9 496.9)" stroke-dasharray="3 1.2"/>
<ellipse cx="196.9" cy="496.2" rx="8.2" ry="4.1" fill="url(#hole)" stroke="#0a0a0a" stroke-width="1.25" transform="rotate(-3 196.9 496.2)" />
<polygon points="82.0,491.7 82.0,493.7 81.7,495.5 81.3,497.2 80.8,498.8 80.1,500.2 79.3,501.4 78.4,502.4 77.3,503.1 76.2,503.7 74.9,504.0 73.6,504.0 72.2,503.9 70.8,503.5 69.3,502.9 67.8,502.0 66.3,500.9 64.8,499.7 63.4,498.2 62.0,496.6 60.7,494.8 59.4,492.9 58.3,490.9 57.2,488.7 56.3,486.5 55.5,484.3 54.8,482.1 54.3,479.8 53.9,477.6 53.6,475.4 53.6,473.3 53.6,471.3 53.9,469.5 54.3,467.8 54.8,466.2 55.5,464.8 56.3,463.6 57.2,462.6 58.3,461.9 59.4,461.3 60.7,461.0 62.0,461.0 63.4,461.1 64.8,461.5 66.3,462.1 67.8,463.0 69.3,464.1 70.8,465.3 72.2,466.8 73.6,468.4 74.9,470.2 76.2,472.1 77.3,474.1 78.4,476.3 79.3,478.5 80.1,480.7 80.8,482.9 81.3,485.2 81.7,487.4 82.0,489.6" fill="#4a4854" stroke="#111" stroke-width="1.1" stroke-linejoin="round" />
<polygon points="195.2,565.0 195.2,567.0 194.9,568.8 194.5,570.5 194.0,572.1 193.3,573.5 192.5,574.7 191.6,575.7 190.5,576.4 189.4,577.0 188.1,577.3 186.8,577.3 185.4,577.2 184.0,576.8 182.5,576.2 181.0,575.3 179.5,574.2 178.0,573.0 176.6,571.5 175.2,569.9 173.9,568.1 172.6,566.2 171.5,564.2 170.4,562.0 169.5,559.8 168.7,557.6 168.0,555.4 167.5,553.1 167.1,550.9 166.8,548.7 166.8,546.6 166.8,544.6 167.1,542.8 167.5,541.1 168.0,539.5 168.7,538.1 169.5,536.9 170.4,535.9 171.5,535.2 172.6,534.6 173.9,534.3 175.2,534.3 176.6,534.4 178.0,534.8 179.5,535.4 181.0,536.3 182.5,537.4 184.0,538.6 185.4,540.1 186.8,541.7 188.1,543.5 189.4,545.4 190.5,547.4 191.6,549.6 192.5,551.8 193.3,554.0 194.0,556.2 194.5,558.5 194.9,560.7 195.2,562.9" fill="#4a4854" stroke="#111" stroke-width="1.1" stroke-linejoin="round" />
<polygon points="140.1,529.6 140.0,531.9 139.8,534.0 139.3,535.9 138.7,537.6 138.0,539.2 137.1,540.5 136.0,541.6 134.8,542.5 133.6,543.1 132.2,543.4 130.7,543.5 129.1,543.3 127.5,542.9 125.9,542.2 124.2,541.2 122.5,540.0 120.9,538.6 119.3,537.0 117.7,535.1 116.2,533.2 114.8,531.0 113.6,528.7 112.4,526.4 111.3,523.9 110.4,521.4 109.7,518.9 109.1,516.4 108.6,513.9 108.4,511.5 108.3,509.2 108.4,506.9 108.6,504.8 109.1,502.9 109.7,501.2 110.4,499.6 111.3,498.3 112.4,497.2 113.6,496.3 114.8,495.7 116.2,495.4 117.7,495.3 119.3,495.5 120.9,495.9 122.5,496.6 124.2,497.6 125.9,498.8 127.5,500.2 129.1,501.8 130.7,503.7 132.2,505.6 133.6,507.8 134.8,510.1 136.0,512.4 137.1,514.9 138.0,517.4 138.7,519.9 139.3,522.4 139.8,524.9 140.0,527.3" fill="url(#lch)" stroke="#111" stroke-width="1.0" stroke-linejoin="round" />
<polygon points="139.2,522.9 139.2,524.1 139.1,525.2 139.0,526.2 138.8,527.2 138.5,528.0 138.2,528.8 137.8,529.4 137.3,529.9 136.9,530.3 136.4,530.6 135.8,530.7 135.3,530.7 134.7,530.5 134.1,530.2 133.5,529.8 132.9,529.3 132.3,528.6 131.7,527.8 131.2,526.9 130.6,526.0 130.1,524.9 129.7,523.8 129.2,522.6 128.8,521.3 128.5,520.1 128.2,518.8 128.0,517.5 127.9,516.2 127.8,514.9 127.8,513.7 127.8,512.5 127.9,511.4 128.0,510.4 128.2,509.4 128.5,508.6 128.8,507.8 129.2,507.2 129.7,506.7 130.1,506.3 130.6,506.0 131.2,505.9 131.7,505.9 132.3,506.1 132.9,506.4 133.5,506.8 134.1,507.3 134.7,508.0 135.3,508.8 135.8,509.7 136.4,510.6 136.9,511.7 137.3,512.8 137.8,514.0 138.2,515.3 138.5,516.5 138.8,517.8 139.0,519.1 139.1,520.4 139.2,521.7" fill="#ffffff" stroke="#111" stroke-width="0.9" stroke-linejoin="round" />
<polyline points="135.2,509.3 135.9,509.7 136.7,510.4 137.4,511.3 138.1,512.4 138.7,513.7 139.3,515.1 139.8,516.6 140.2,518.2 140.5,519.8 140.7,521.4 140.7,522.9 140.7,524.4 140.5,525.7 140.3,526.9 139.9,527.9 139.4,528.6 138.9,529.2 138.2,529.5 137.5,529.5 136.8,529.3" fill="none" stroke="#111" stroke-width="0.8" stroke-linejoin="round" stroke-linecap="round" />
<polygon points="97.8,464.2 97.8,464.9 97.7,465.7 97.6,466.3 97.4,467.0 97.1,467.5 96.8,468.0 96.4,468.3 96.0,468.6 95.6,468.8 95.1,469.0 94.6,469.0 94.0,468.9 93.5,468.8 92.9,468.5 92.3,468.2 91.7,467.8 91.1,467.3 90.6,466.7 90.0,466.1 89.5,465.4 89.0,464.6 88.6,463.9 88.2,463.0 87.8,462.2 87.5,461.3 87.2,460.4 87.0,459.6 86.9,458.7 86.8,457.8 86.8,457.0 86.8,456.3 86.9,455.5 87.0,454.9 87.2,454.2 87.5,453.7 87.8,453.2 88.2,452.9 88.6,452.6 89.0,452.4 89.5,452.2 90.0,452.2 90.6,452.3 91.1,452.4 91.7,452.7 92.3,453.0 92.9,453.4 93.5,453.9 94.0,454.5 94.6,455.1 95.1,455.8 95.6,456.6 96.0,457.3 96.4,458.2 96.8,459.0 97.1,459.9 97.4,460.8 97.6,461.6 97.7,462.5 97.8,463.4" fill="url(#holeV)" stroke="#111" stroke-width="0.9" stroke-linejoin="round" />
<polygon points="97.2,520.9 97.2,521.6 97.1,522.4 97.0,523.0 96.8,523.7 96.5,524.2 96.2,524.7 95.8,525.0 95.4,525.3 95.0,525.5 94.5,525.7 94.0,525.7 93.4,525.6 92.9,525.5 92.3,525.2 91.7,524.9 91.1,524.5 90.5,524.0 90.0,523.4 89.4,522.8 88.9,522.1 88.4,521.3 88.0,520.6 87.6,519.7 87.2,518.9 86.9,518.0 86.6,517.1 86.4,516.3 86.3,515.4 86.2,514.5 86.2,513.7 86.2,513.0 86.3,512.2 86.4,511.6 86.6,510.9 86.9,510.4 87.2,509.9 87.6,509.6 88.0,509.3 88.4,509.1 88.9,508.9 89.4,508.9 90.0,509.0 90.5,509.1 91.1,509.4 91.7,509.7 92.3,510.1 92.9,510.6 93.4,511.2 94.0,511.8 94.5,512.5 95.0,513.3 95.4,514.0 95.8,514.9 96.2,515.7 96.5,516.6 96.8,517.5 97.0,518.3 97.1,519.2 97.2,520.1" fill="url(#holeV)" stroke="#111" stroke-width="0.9" stroke-linejoin="round" />
<polygon points="162.3,505.6 162.3,506.3 162.2,507.1 162.1,507.7 161.9,508.4 161.6,508.9 161.3,509.4 160.9,509.7 160.5,510.0 160.1,510.2 159.6,510.4 159.1,510.4 158.5,510.3 158.0,510.2 157.4,509.9 156.8,509.6 156.2,509.2 155.6,508.7 155.1,508.1 154.5,507.5 154.0,506.8 153.5,506.0 153.1,505.3 152.7,504.4 152.3,503.6 152.0,502.7 151.7,501.8 151.5,501.0 151.4,500.1 151.3,499.2 151.3,498.4 151.3,497.7 151.4,496.9 151.5,496.3 151.7,495.6 152.0,495.1 152.3,494.6 152.7,494.3 153.1,494.0 153.5,493.8 154.0,493.6 154.5,493.6 155.1,493.7 155.6,493.8 156.2,494.1 156.8,494.4 157.4,494.8 158.0,495.3 158.5,495.9 159.1,496.5 159.6,497.2 160.1,498.0 160.5,498.7 160.9,499.6 161.3,500.4 161.6,501.3 161.9,502.2 162.1,503.0 162.2,503.9 162.3,504.8" fill="url(#holeV)" stroke="#111" stroke-width="0.9" stroke-linejoin="round" />
<polygon points="161.3,562.0 161.3,562.7 161.2,563.5 161.1,564.1 160.9,564.8 160.6,565.3 160.3,565.8 159.9,566.1 159.5,566.4 159.1,566.6 158.6,566.8 158.1,566.8 157.5,566.7 157.0,566.6 156.4,566.3 155.8,566.0 155.2,565.6 154.6,565.1 154.1,564.5 153.5,563.9 153.0,563.2 152.5,562.4 152.1,561.7 151.7,560.8 151.3,560.0 151.0,559.1 150.7,558.2 150.5,557.4 150.4,556.5 150.3,555.6 150.3,554.8 150.3,554.1 150.4,553.3 150.5,552.7 150.7,552.0 151.0,551.5 151.3,551.0 151.7,550.7 152.1,550.4 152.5,550.2 153.0,550.0 153.5,550.0 154.1,550.1 154.6,550.2 155.2,550.5 155.8,550.8 156.4,551.2 157.0,551.7 157.5,552.3 158.1,552.9 158.6,553.6 159.1,554.4 159.5,555.1 159.9,556.0 160.3,556.8 160.6,557.7 160.9,558.6 161.1,559.4 161.2,560.3 161.3,561.2" fill="url(#holeV)" stroke="#111" stroke-width="0.9" stroke-linejoin="round" />
<polygon points="101.1,504.5 101.1,505.2 101.0,505.8 100.9,506.4 100.7,506.9 100.5,507.4 100.2,507.8 99.9,508.1 99.5,508.4 99.1,508.6 98.7,508.7 98.3,508.7 97.8,508.6 97.3,508.5 96.8,508.3 96.3,508.0 95.8,507.6 95.3,507.2 94.8,506.7 94.3,506.2 93.9,505.6 93.5,504.9 93.1,504.2 92.7,503.5 92.4,502.8 92.1,502.0 91.9,501.3 91.7,500.5 91.6,499.7 91.5,499.0 91.5,498.3 91.5,497.6 91.6,497.0 91.7,496.4 91.9,495.9 92.1,495.4 92.4,495.0 92.7,494.7 93.1,494.4 93.5,494.2 93.9,494.1 94.3,494.1 94.8,494.2 95.3,494.3 95.8,494.5 96.3,494.8 96.8,495.2 97.3,495.6 97.8,496.1 98.3,496.6 98.7,497.2 99.1,497.9 99.5,498.6 99.9,499.3 100.2,500.0 100.5,500.8 100.7,501.5 100.9,502.3 101.0,503.1 101.1,503.8" fill="url(#holeV)" stroke="#111" stroke-width="0.8" stroke-linejoin="round" />
<polyline points="94.6,493.8 95.4,494.0 96.2,494.4 97.0,495.0 97.8,495.8 98.6,496.7 99.3,497.8 99.9,498.9 100.4,500.1 100.8,501.3 101.1,502.6 101.3,503.8 101.3,504.9 101.2,506.0 101.0,506.9 100.6,507.7 100.2,508.3" fill="none" stroke="#1f8fd0" stroke-width="1.2" stroke-linejoin="round" stroke-linecap="round" />
<polygon points="156.8,540.6 156.8,541.3 156.7,541.9 156.6,542.5 156.4,543.0 156.2,543.5 155.9,543.9 155.6,544.2 155.2,544.5 154.8,544.7 154.4,544.8 154.0,544.8 153.5,544.7 153.0,544.6 152.5,544.4 152.0,544.1 151.5,543.7 151.0,543.3 150.5,542.8 150.0,542.3 149.6,541.7 149.2,541.0 148.8,540.3 148.4,539.6 148.1,538.9 147.8,538.1 147.6,537.4 147.4,536.6 147.3,535.8 147.2,535.1 147.2,534.4 147.2,533.7 147.3,533.1 147.4,532.5 147.6,532.0 147.8,531.5 148.1,531.1 148.4,530.8 148.8,530.5 149.2,530.3 149.6,530.2 150.0,530.2 150.5,530.3 151.0,530.4 151.5,530.6 152.0,530.9 152.5,531.3 153.0,531.7 153.5,532.2 154.0,532.7 154.4,533.3 154.8,534.0 155.2,534.7 155.6,535.4 155.9,536.1 156.2,536.9 156.4,537.6 156.6,538.4 156.7,539.2 156.8,539.9" fill="url(#holeV)" stroke="#111" stroke-width="0.8" stroke-linejoin="round" />
<polyline points="150.3,529.9 151.1,530.1 151.9,530.5 152.7,531.1 153.5,531.9 154.3,532.8 155.0,533.9 155.6,535.0 156.1,536.2 156.5,537.4 156.8,538.7 157.0,539.9 157.0,541.0 156.9,542.1 156.7,543.0 156.3,543.8 155.9,544.4" fill="none" stroke="#1f8fd0" stroke-width="1.2" stroke-linejoin="round" stroke-linecap="round" />
</svg>
</body></html>
